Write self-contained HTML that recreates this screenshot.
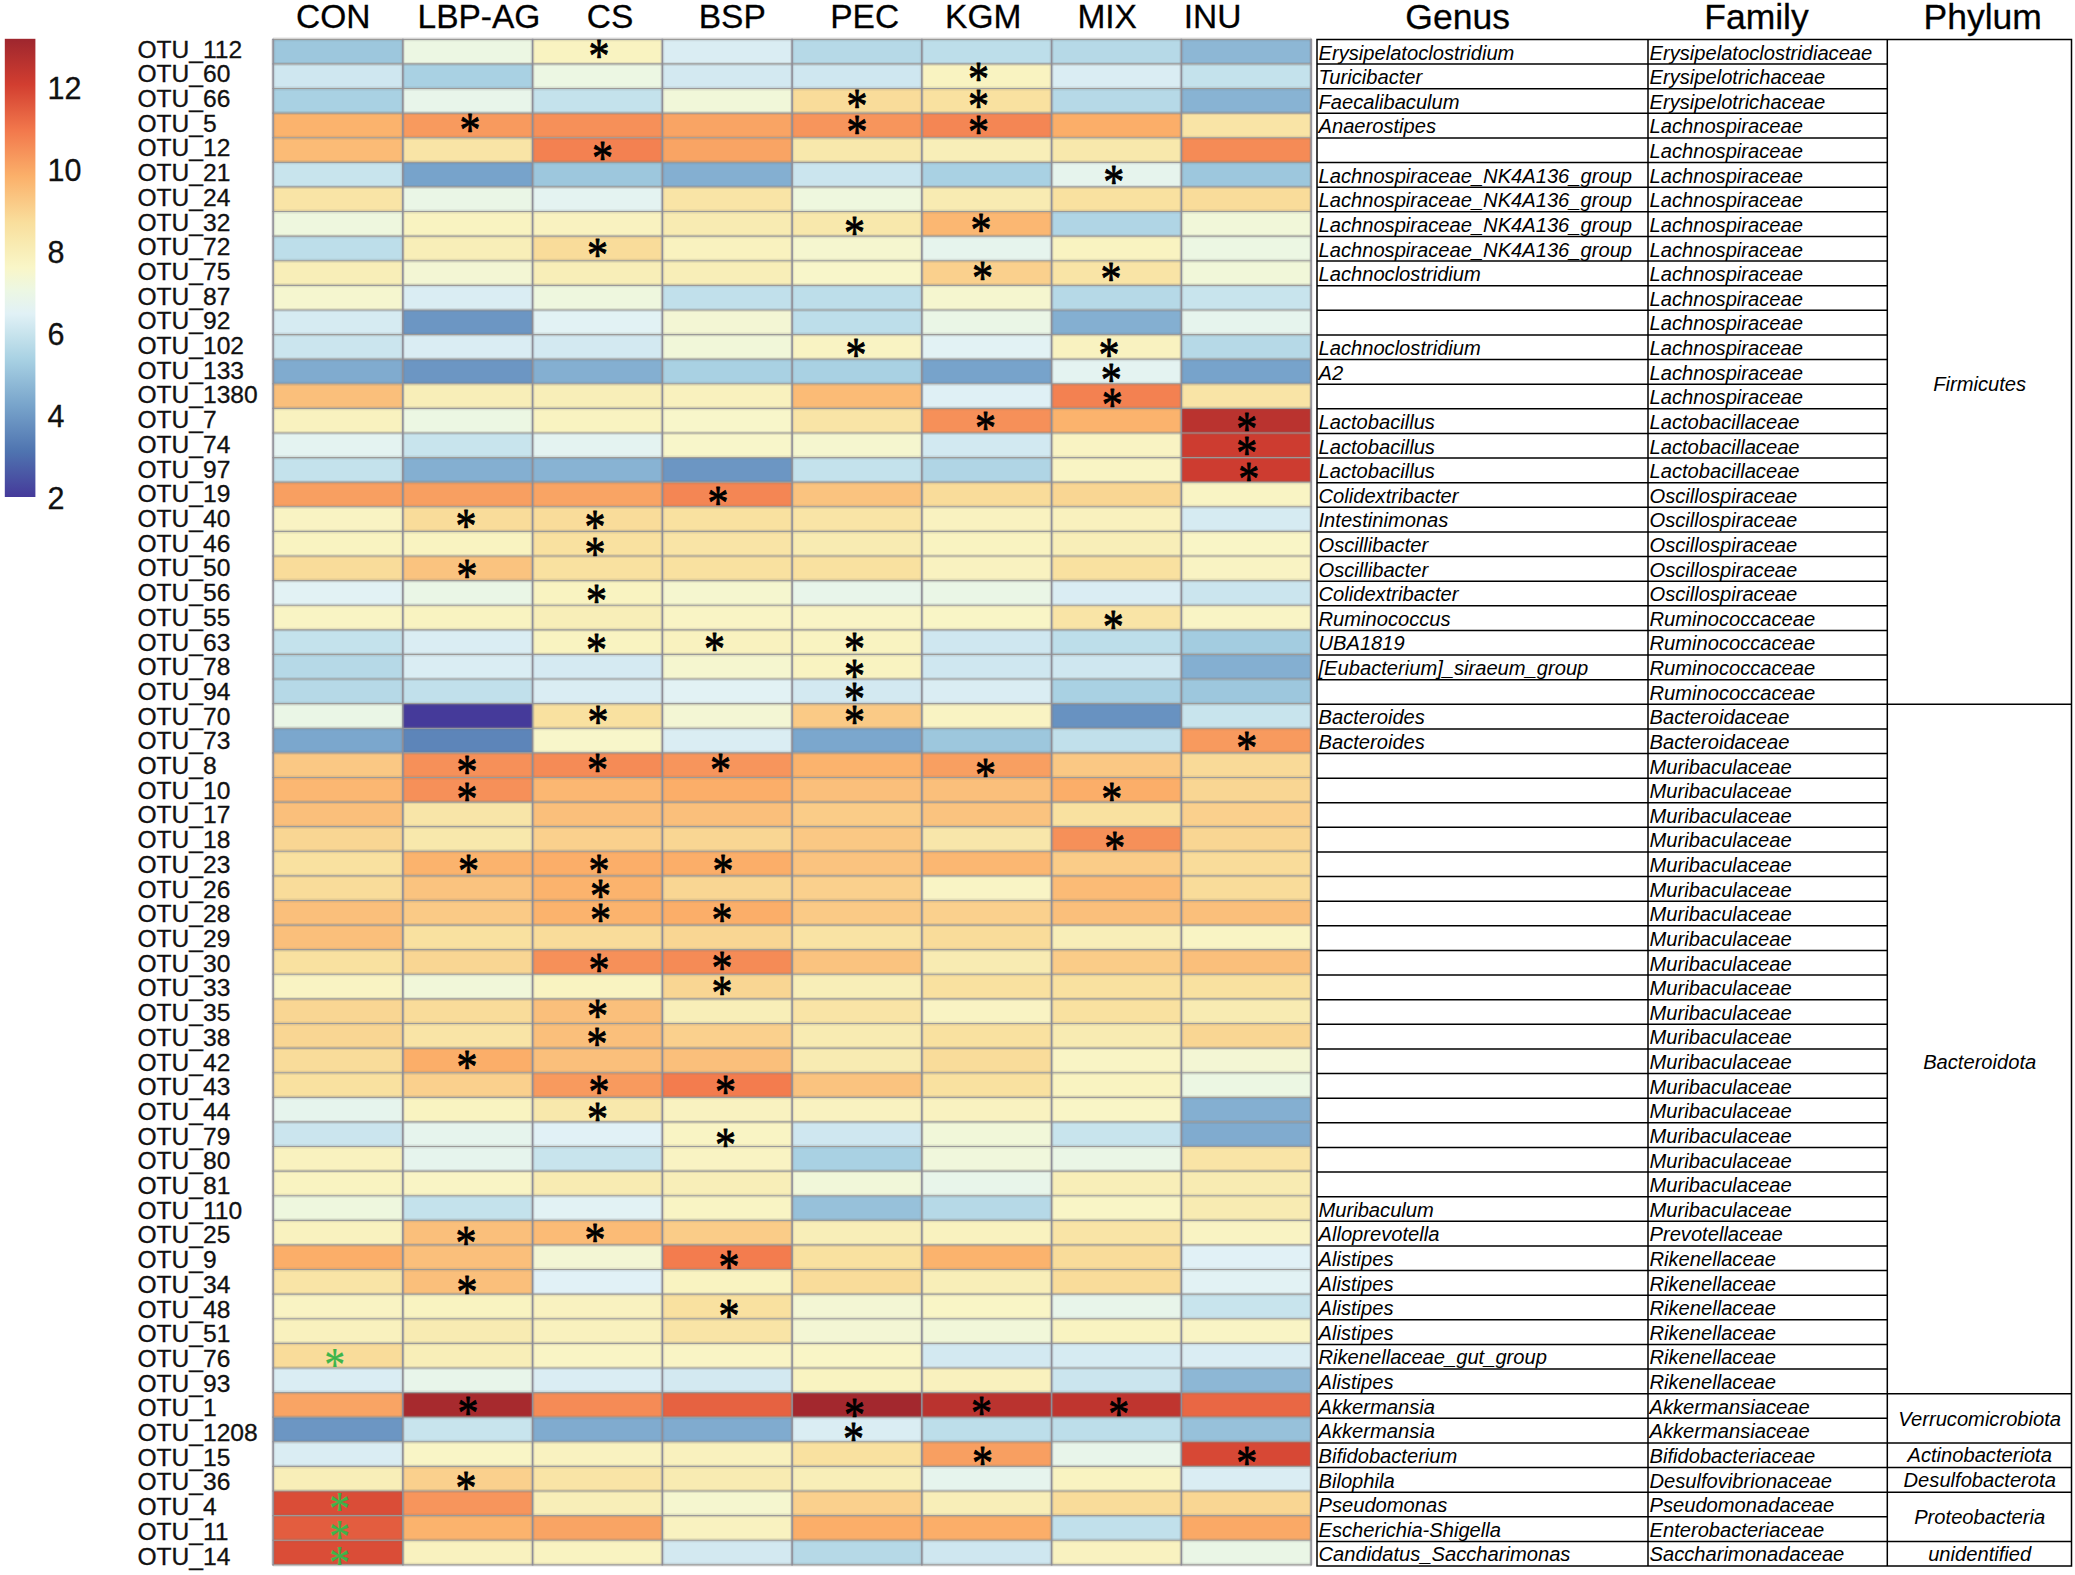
<!DOCTYPE html>
<html><head><meta charset="utf-8"><title>OTU heatmap</title>
<style>html,body{margin:0;padding:0;background:#fff}svg{display:block}.s{font-family:"Liberation Sans",Arial,sans-serif;fill:#111;stroke:#111;stroke-width:0.3px}.i{font-family:"Liberation Sans",Arial,sans-serif;font-style:italic;font-size:20.15px;fill:#000}.o{font-size:24.6px}.h{font-size:33.5px;fill:#000}.g{font-size:35.5px;fill:#000}.l{font-size:30.5px}.a{font-family:"Liberation Serif","DejaVu Serif",serif;font-size:100px;text-anchor:middle;stroke-width:1.8px;stroke-linejoin:round}</style></head><body>
<svg width="2075" height="1575" viewBox="0 0 2075 1575">
<defs><linearGradient id="lg" x1="0" y1="1" x2="0" y2="0">
<stop offset="0.00%" stop-color="#453A9A"/>
<stop offset="10.00%" stop-color="#4F74B0"/>
<stop offset="20.00%" stop-color="#78A4CB"/>
<stop offset="30.00%" stop-color="#A8D1E3"/>
<stop offset="35.14%" stop-color="#C5E2EC"/>
<stop offset="40.00%" stop-color="#E1F1F6"/>
<stop offset="45.05%" stop-color="#ECF7E3"/>
<stop offset="50.00%" stop-color="#F9F6C8"/>
<stop offset="54.95%" stop-color="#F8EBB2"/>
<stop offset="60.00%" stop-color="#F9DE9C"/>
<stop offset="70.00%" stop-color="#FBB06A"/>
<stop offset="80.00%" stop-color="#F2784C"/>
<stop offset="90.00%" stop-color="#D23E30"/>
<stop offset="100.00%" stop-color="#9E262E"/>
</linearGradient></defs>
<rect x="4.8" y="38.8" width="30.6" height="458.2" fill="url(#lg)"/>
<text class="s l" x="47.6" y="99.3">12</text>
<text class="s l" x="47.6" y="181.2">10</text>
<text class="s l" x="47.6" y="263.0">8</text>
<text class="s l" x="47.6" y="344.9">6</text>
<text class="s l" x="47.6" y="426.7">4</text>
<text class="s l" x="47.6" y="508.6">2</text>
<text class="s h" x="333.3" y="27.6" text-anchor="middle">CON</text>
<text class="s h" x="479" y="27.6" text-anchor="middle">LBP-AG</text>
<text class="s h" x="610" y="27.6" text-anchor="middle">CS</text>
<text class="s h" x="732.3" y="27.6" text-anchor="middle">BSP</text>
<text class="s h" x="864.7" y="27.6" text-anchor="middle">PEC</text>
<text class="s h" x="983.2" y="27.6" text-anchor="middle">KGM</text>
<text class="s h" x="1107.2" y="27.6" text-anchor="middle">MIX</text>
<text class="s h" x="1212.5" y="27.6" text-anchor="middle">INU</text>
<text class="s g" x="1457.6" y="28.5" text-anchor="middle">Genus</text>
<text class="s g" x="1756.5" y="28.5" text-anchor="middle">Family</text>
<text class="s g" x="1982.7" y="28.5" text-anchor="middle">Phylum</text>
<g>
<rect x="273.10" y="39.30" width="129.75" height="24.60" fill="#9dc7dd"/>
<rect x="402.85" y="39.30" width="129.75" height="24.60" fill="#ecf7e3"/>
<rect x="532.60" y="39.30" width="129.75" height="24.60" fill="#f9f3c1"/>
<rect x="662.35" y="39.30" width="129.75" height="24.60" fill="#daedf3"/>
<rect x="792.10" y="39.30" width="129.75" height="24.60" fill="#b6d9e7"/>
<rect x="921.85" y="39.30" width="129.75" height="24.60" fill="#bddeea"/>
<rect x="1051.60" y="39.30" width="129.75" height="24.60" fill="#b6d9e7"/>
<rect x="1181.35" y="39.30" width="129.75" height="24.60" fill="#8db7d5"/>
<rect x="273.10" y="63.90" width="129.75" height="24.60" fill="#cfe7f0"/>
<rect x="402.85" y="63.90" width="129.75" height="24.60" fill="#a9d1e3"/>
<rect x="532.60" y="63.90" width="129.75" height="24.60" fill="#ecf7e3"/>
<rect x="662.35" y="63.90" width="129.75" height="24.60" fill="#d3e9f1"/>
<rect x="792.10" y="63.90" width="129.75" height="24.60" fill="#cfe7f0"/>
<rect x="921.85" y="63.90" width="129.75" height="24.60" fill="#f9f3c1"/>
<rect x="1051.60" y="63.90" width="129.75" height="24.60" fill="#daedf3"/>
<rect x="1181.35" y="63.90" width="129.75" height="24.60" fill="#c4e2ec"/>
<rect x="273.10" y="88.51" width="129.75" height="24.60" fill="#a9d1e3"/>
<rect x="402.85" y="88.51" width="129.75" height="24.60" fill="#e8f5ea"/>
<rect x="532.60" y="88.51" width="129.75" height="24.60" fill="#c4e2ec"/>
<rect x="662.35" y="88.51" width="129.75" height="24.60" fill="#f1f7d9"/>
<rect x="792.10" y="88.51" width="129.75" height="24.60" fill="#f9dc9a"/>
<rect x="921.85" y="88.51" width="129.75" height="24.60" fill="#f9e1a0"/>
<rect x="1051.60" y="88.51" width="129.75" height="24.60" fill="#b6d9e7"/>
<rect x="1181.35" y="88.51" width="129.75" height="24.60" fill="#88b3d3"/>
<rect x="273.10" y="113.11" width="129.75" height="24.60" fill="#fbb36d"/>
<rect x="402.85" y="113.11" width="129.75" height="24.60" fill="#f89a5e"/>
<rect x="532.60" y="113.11" width="129.75" height="24.60" fill="#f69059"/>
<rect x="662.35" y="113.11" width="129.75" height="24.60" fill="#f9a464"/>
<rect x="792.10" y="113.11" width="129.75" height="24.60" fill="#f7955c"/>
<rect x="921.85" y="113.11" width="129.75" height="24.60" fill="#f48654"/>
<rect x="1051.60" y="113.11" width="129.75" height="24.60" fill="#fbae69"/>
<rect x="1181.35" y="113.11" width="129.75" height="24.60" fill="#f9e4a6"/>
<rect x="273.10" y="137.72" width="129.75" height="24.60" fill="#fbbb76"/>
<rect x="402.85" y="137.72" width="129.75" height="24.60" fill="#f9e4a6"/>
<rect x="532.60" y="137.72" width="129.75" height="24.60" fill="#f38151"/>
<rect x="662.35" y="137.72" width="129.75" height="24.60" fill="#f9a464"/>
<rect x="792.10" y="137.72" width="129.75" height="24.60" fill="#f8e8ac"/>
<rect x="921.85" y="137.72" width="129.75" height="24.60" fill="#f8eeb8"/>
<rect x="1051.60" y="137.72" width="129.75" height="24.60" fill="#f8e8ac"/>
<rect x="1181.35" y="137.72" width="129.75" height="24.60" fill="#f58b56"/>
<rect x="273.10" y="162.32" width="129.75" height="24.60" fill="#c8e4ed"/>
<rect x="402.85" y="162.32" width="129.75" height="24.60" fill="#77a3cb"/>
<rect x="532.60" y="162.32" width="129.75" height="24.60" fill="#9dc7dd"/>
<rect x="662.35" y="162.32" width="129.75" height="24.60" fill="#84afd1"/>
<rect x="792.10" y="162.32" width="129.75" height="24.60" fill="#cbe5ee"/>
<rect x="921.85" y="162.32" width="129.75" height="24.60" fill="#a9d1e3"/>
<rect x="1051.60" y="162.32" width="129.75" height="24.60" fill="#e6f4ed"/>
<rect x="1181.35" y="162.32" width="129.75" height="24.60" fill="#9dc7dd"/>
<rect x="273.10" y="186.93" width="129.75" height="24.60" fill="#f9e4a6"/>
<rect x="402.85" y="186.93" width="129.75" height="24.60" fill="#eaf6e6"/>
<rect x="532.60" y="186.93" width="129.75" height="24.60" fill="#e4f3f1"/>
<rect x="662.35" y="186.93" width="129.75" height="24.60" fill="#f9e4a6"/>
<rect x="792.10" y="186.93" width="129.75" height="24.60" fill="#eef7de"/>
<rect x="921.85" y="186.93" width="129.75" height="24.60" fill="#f8ebb2"/>
<rect x="1051.60" y="186.93" width="129.75" height="24.60" fill="#f9e1a0"/>
<rect x="1181.35" y="186.93" width="129.75" height="24.60" fill="#f9dc9a"/>
<rect x="273.10" y="211.53" width="129.75" height="24.60" fill="#eef7de"/>
<rect x="402.85" y="211.53" width="129.75" height="24.60" fill="#f9f3c1"/>
<rect x="532.60" y="211.53" width="129.75" height="24.60" fill="#f9f2c0"/>
<rect x="662.35" y="211.53" width="129.75" height="24.60" fill="#f8ebb2"/>
<rect x="792.10" y="211.53" width="129.75" height="24.60" fill="#f8e8ac"/>
<rect x="921.85" y="211.53" width="129.75" height="24.60" fill="#fbb772"/>
<rect x="1051.60" y="211.53" width="129.75" height="24.60" fill="#b0d5e5"/>
<rect x="1181.35" y="211.53" width="129.75" height="24.60" fill="#f1f7d9"/>
<rect x="273.10" y="236.14" width="129.75" height="24.60" fill="#bddeea"/>
<rect x="402.85" y="236.14" width="129.75" height="24.60" fill="#f8eeb8"/>
<rect x="532.60" y="236.14" width="129.75" height="24.60" fill="#f9dc9a"/>
<rect x="662.35" y="236.14" width="129.75" height="24.60" fill="#f9f2bf"/>
<rect x="792.10" y="236.14" width="129.75" height="24.60" fill="#f5f6cf"/>
<rect x="921.85" y="236.14" width="129.75" height="24.60" fill="#e6f4ed"/>
<rect x="1051.60" y="236.14" width="129.75" height="24.60" fill="#f9f3c1"/>
<rect x="1181.35" y="236.14" width="129.75" height="24.60" fill="#ecf7e3"/>
<rect x="273.10" y="260.74" width="129.75" height="24.60" fill="#f8eeb8"/>
<rect x="402.85" y="260.74" width="129.75" height="24.60" fill="#f3f6d4"/>
<rect x="532.60" y="260.74" width="129.75" height="24.60" fill="#f8eeb8"/>
<rect x="662.35" y="260.74" width="129.75" height="24.60" fill="#f8eeb8"/>
<rect x="792.10" y="260.74" width="129.75" height="24.60" fill="#f8f6ca"/>
<rect x="921.85" y="260.74" width="129.75" height="24.60" fill="#fad08d"/>
<rect x="1051.60" y="260.74" width="129.75" height="24.60" fill="#f9e4a6"/>
<rect x="1181.35" y="260.74" width="129.75" height="24.60" fill="#f1f7d9"/>
<rect x="273.10" y="285.35" width="129.75" height="24.60" fill="#f5f6cf"/>
<rect x="402.85" y="285.35" width="129.75" height="24.60" fill="#daedf3"/>
<rect x="532.60" y="285.35" width="129.75" height="24.60" fill="#eef7de"/>
<rect x="662.35" y="285.35" width="129.75" height="24.60" fill="#c1e0eb"/>
<rect x="792.10" y="285.35" width="129.75" height="24.60" fill="#bddeea"/>
<rect x="921.85" y="285.35" width="129.75" height="24.60" fill="#f5f6cf"/>
<rect x="1051.60" y="285.35" width="129.75" height="24.60" fill="#b6d9e7"/>
<rect x="1181.35" y="285.35" width="129.75" height="24.60" fill="#c8e4ed"/>
<rect x="273.10" y="309.95" width="129.75" height="24.60" fill="#d6ebf2"/>
<rect x="402.85" y="309.95" width="129.75" height="24.60" fill="#6c96c3"/>
<rect x="532.60" y="309.95" width="129.75" height="24.60" fill="#e2f2f4"/>
<rect x="662.35" y="309.95" width="129.75" height="24.60" fill="#f3f6d4"/>
<rect x="792.10" y="309.95" width="129.75" height="24.60" fill="#bddeea"/>
<rect x="921.85" y="309.95" width="129.75" height="24.60" fill="#eaf6e6"/>
<rect x="1051.60" y="309.95" width="129.75" height="24.60" fill="#84afd1"/>
<rect x="1181.35" y="309.95" width="129.75" height="24.60" fill="#e6f4ed"/>
<rect x="273.10" y="334.56" width="129.75" height="24.60" fill="#cbe5ee"/>
<rect x="402.85" y="334.56" width="129.75" height="24.60" fill="#daedf3"/>
<rect x="532.60" y="334.56" width="129.75" height="24.60" fill="#d3e9f1"/>
<rect x="662.35" y="334.56" width="129.75" height="24.60" fill="#f1f7d9"/>
<rect x="792.10" y="334.56" width="129.75" height="24.60" fill="#f9f3c3"/>
<rect x="921.85" y="334.56" width="129.75" height="24.60" fill="#e2f2f4"/>
<rect x="1051.60" y="334.56" width="129.75" height="24.60" fill="#f9f2c0"/>
<rect x="1181.35" y="334.56" width="129.75" height="24.60" fill="#b6d9e7"/>
<rect x="273.10" y="359.16" width="129.75" height="24.60" fill="#80abcf"/>
<rect x="402.85" y="359.16" width="129.75" height="24.60" fill="#6c96c3"/>
<rect x="532.60" y="359.16" width="129.75" height="24.60" fill="#84afd1"/>
<rect x="662.35" y="359.16" width="129.75" height="24.60" fill="#a9d1e3"/>
<rect x="792.10" y="359.16" width="129.75" height="24.60" fill="#a9d1e3"/>
<rect x="921.85" y="359.16" width="129.75" height="24.60" fill="#77a3cb"/>
<rect x="1051.60" y="359.16" width="129.75" height="24.60" fill="#e4f3f1"/>
<rect x="1181.35" y="359.16" width="129.75" height="24.60" fill="#77a3cb"/>
<rect x="273.10" y="383.77" width="129.75" height="24.60" fill="#fabf7b"/>
<rect x="402.85" y="383.77" width="129.75" height="24.60" fill="#f8eeb8"/>
<rect x="532.60" y="383.77" width="129.75" height="24.60" fill="#f8eeb8"/>
<rect x="662.35" y="383.77" width="129.75" height="24.60" fill="#f9f1be"/>
<rect x="792.10" y="383.77" width="129.75" height="24.60" fill="#fbbb76"/>
<rect x="921.85" y="383.77" width="129.75" height="24.60" fill="#dff0f5"/>
<rect x="1051.60" y="383.77" width="129.75" height="24.60" fill="#f38151"/>
<rect x="1181.35" y="383.77" width="129.75" height="24.60" fill="#f9e4a6"/>
<rect x="273.10" y="408.37" width="129.75" height="24.60" fill="#f9f2bf"/>
<rect x="402.85" y="408.37" width="129.75" height="24.60" fill="#ecf7e3"/>
<rect x="532.60" y="408.37" width="129.75" height="24.60" fill="#f9f3c1"/>
<rect x="662.35" y="408.37" width="129.75" height="24.60" fill="#f8f6ca"/>
<rect x="792.10" y="408.37" width="129.75" height="24.60" fill="#f9e4a6"/>
<rect x="921.85" y="408.37" width="129.75" height="24.60" fill="#f69059"/>
<rect x="1051.60" y="408.37" width="129.75" height="24.60" fill="#fbb36d"/>
<rect x="1181.35" y="408.37" width="129.75" height="24.60" fill="#ba332f"/>
<rect x="273.10" y="432.98" width="129.75" height="24.60" fill="#e4f3f1"/>
<rect x="402.85" y="432.98" width="129.75" height="24.60" fill="#c8e4ed"/>
<rect x="532.60" y="432.98" width="129.75" height="24.60" fill="#e4f3f1"/>
<rect x="662.35" y="432.98" width="129.75" height="24.60" fill="#f8f6ca"/>
<rect x="792.10" y="432.98" width="129.75" height="24.60" fill="#f5f6cf"/>
<rect x="921.85" y="432.98" width="129.75" height="24.60" fill="#d2e9f1"/>
<rect x="1051.60" y="432.98" width="129.75" height="24.60" fill="#f9f3c3"/>
<rect x="1181.35" y="432.98" width="129.75" height="24.60" fill="#cd3c30"/>
<rect x="273.10" y="457.58" width="129.75" height="24.60" fill="#c4e2ec"/>
<rect x="402.85" y="457.58" width="129.75" height="24.60" fill="#84afd1"/>
<rect x="532.60" y="457.58" width="129.75" height="24.60" fill="#88b3d3"/>
<rect x="662.35" y="457.58" width="129.75" height="24.60" fill="#6c96c3"/>
<rect x="792.10" y="457.58" width="129.75" height="24.60" fill="#c4e2ec"/>
<rect x="921.85" y="457.58" width="129.75" height="24.60" fill="#b0d5e5"/>
<rect x="1051.60" y="457.58" width="129.75" height="24.60" fill="#f9f4c4"/>
<rect x="1181.35" y="457.58" width="129.75" height="24.60" fill="#cd3c30"/>
<rect x="273.10" y="482.19" width="129.75" height="24.60" fill="#f89f61"/>
<rect x="402.85" y="482.19" width="129.75" height="24.60" fill="#f89f61"/>
<rect x="532.60" y="482.19" width="129.75" height="24.60" fill="#f9a464"/>
<rect x="662.35" y="482.19" width="129.75" height="24.60" fill="#f48654"/>
<rect x="792.10" y="482.19" width="129.75" height="24.60" fill="#fac37f"/>
<rect x="921.85" y="482.19" width="129.75" height="24.60" fill="#f9dc9a"/>
<rect x="1051.60" y="482.19" width="129.75" height="24.60" fill="#f9d693"/>
<rect x="1181.35" y="482.19" width="129.75" height="24.60" fill="#f9f4c4"/>
<rect x="273.10" y="506.79" width="129.75" height="24.60" fill="#f9f3c3"/>
<rect x="402.85" y="506.79" width="129.75" height="24.60" fill="#f9dc9a"/>
<rect x="532.60" y="506.79" width="129.75" height="24.60" fill="#f9dc9a"/>
<rect x="662.35" y="506.79" width="129.75" height="24.60" fill="#f9e1a0"/>
<rect x="792.10" y="506.79" width="129.75" height="24.60" fill="#f9e4a6"/>
<rect x="921.85" y="506.79" width="129.75" height="24.60" fill="#f9f2c0"/>
<rect x="1051.60" y="506.79" width="129.75" height="24.60" fill="#f9f1be"/>
<rect x="1181.35" y="506.79" width="129.75" height="24.60" fill="#d6ebf2"/>
<rect x="273.10" y="531.40" width="129.75" height="24.60" fill="#f9f3c1"/>
<rect x="402.85" y="531.40" width="129.75" height="24.60" fill="#f9f3c1"/>
<rect x="532.60" y="531.40" width="129.75" height="24.60" fill="#f9e1a0"/>
<rect x="662.35" y="531.40" width="129.75" height="24.60" fill="#f9e4a6"/>
<rect x="792.10" y="531.40" width="129.75" height="24.60" fill="#f8ebb2"/>
<rect x="921.85" y="531.40" width="129.75" height="24.60" fill="#f9f3c1"/>
<rect x="1051.60" y="531.40" width="129.75" height="24.60" fill="#f8eeb8"/>
<rect x="1181.35" y="531.40" width="129.75" height="24.60" fill="#f9f5c6"/>
<rect x="273.10" y="556.00" width="129.75" height="24.60" fill="#f9dc9a"/>
<rect x="402.85" y="556.00" width="129.75" height="24.60" fill="#fac37f"/>
<rect x="532.60" y="556.00" width="129.75" height="24.60" fill="#f9e1a0"/>
<rect x="662.35" y="556.00" width="129.75" height="24.60" fill="#f9e1a0"/>
<rect x="792.10" y="556.00" width="129.75" height="24.60" fill="#f9e1a0"/>
<rect x="921.85" y="556.00" width="129.75" height="24.60" fill="#f9f2c0"/>
<rect x="1051.60" y="556.00" width="129.75" height="24.60" fill="#f9e1a0"/>
<rect x="1181.35" y="556.00" width="129.75" height="24.60" fill="#f9f3c3"/>
<rect x="273.10" y="580.61" width="129.75" height="24.60" fill="#e2f2f4"/>
<rect x="402.85" y="580.61" width="129.75" height="24.60" fill="#eaf6e6"/>
<rect x="532.60" y="580.61" width="129.75" height="24.60" fill="#f9f3c1"/>
<rect x="662.35" y="580.61" width="129.75" height="24.60" fill="#f5f6cf"/>
<rect x="792.10" y="580.61" width="129.75" height="24.60" fill="#e8f5ea"/>
<rect x="921.85" y="580.61" width="129.75" height="24.60" fill="#eaf6e6"/>
<rect x="1051.60" y="580.61" width="129.75" height="24.60" fill="#daedf3"/>
<rect x="1181.35" y="580.61" width="129.75" height="24.60" fill="#cbe5ee"/>
<rect x="273.10" y="605.21" width="129.75" height="24.60" fill="#f9f4c4"/>
<rect x="402.85" y="605.21" width="129.75" height="24.60" fill="#f9f3c1"/>
<rect x="532.60" y="605.21" width="129.75" height="24.60" fill="#f8eeb8"/>
<rect x="662.35" y="605.21" width="129.75" height="24.60" fill="#f9f4c5"/>
<rect x="792.10" y="605.21" width="129.75" height="24.60" fill="#f9f4c5"/>
<rect x="921.85" y="605.21" width="129.75" height="24.60" fill="#f9f5c6"/>
<rect x="1051.60" y="605.21" width="129.75" height="24.60" fill="#f9e4a6"/>
<rect x="1181.35" y="605.21" width="129.75" height="24.60" fill="#f9f4c5"/>
<rect x="273.10" y="629.82" width="129.75" height="24.60" fill="#c4e2ec"/>
<rect x="402.85" y="629.82" width="129.75" height="24.60" fill="#daedf3"/>
<rect x="532.60" y="629.82" width="129.75" height="24.60" fill="#f9f3c1"/>
<rect x="662.35" y="629.82" width="129.75" height="24.60" fill="#f9f2bf"/>
<rect x="792.10" y="629.82" width="129.75" height="24.60" fill="#f9f3c1"/>
<rect x="921.85" y="629.82" width="129.75" height="24.60" fill="#cfe7f0"/>
<rect x="1051.60" y="629.82" width="129.75" height="24.60" fill="#bddeea"/>
<rect x="1181.35" y="629.82" width="129.75" height="24.60" fill="#a3cce0"/>
<rect x="273.10" y="654.42" width="129.75" height="24.60" fill="#b6d9e7"/>
<rect x="402.85" y="654.42" width="129.75" height="24.60" fill="#daedf3"/>
<rect x="532.60" y="654.42" width="129.75" height="24.60" fill="#d5eaf2"/>
<rect x="662.35" y="654.42" width="129.75" height="24.60" fill="#f5f6cf"/>
<rect x="792.10" y="654.42" width="129.75" height="24.60" fill="#f9f3c1"/>
<rect x="921.85" y="654.42" width="129.75" height="24.60" fill="#cfe7f0"/>
<rect x="1051.60" y="654.42" width="129.75" height="24.60" fill="#cfe7f0"/>
<rect x="1181.35" y="654.42" width="129.75" height="24.60" fill="#84afd1"/>
<rect x="273.10" y="679.03" width="129.75" height="24.60" fill="#b6d9e7"/>
<rect x="402.85" y="679.03" width="129.75" height="24.60" fill="#c1e0eb"/>
<rect x="532.60" y="679.03" width="129.75" height="24.60" fill="#daedf3"/>
<rect x="662.35" y="679.03" width="129.75" height="24.60" fill="#e2f2f4"/>
<rect x="792.10" y="679.03" width="129.75" height="24.60" fill="#d3e9f1"/>
<rect x="921.85" y="679.03" width="129.75" height="24.60" fill="#daedf3"/>
<rect x="1051.60" y="679.03" width="129.75" height="24.60" fill="#a9d1e3"/>
<rect x="1181.35" y="679.03" width="129.75" height="24.60" fill="#9dc7dd"/>
<rect x="273.10" y="703.63" width="129.75" height="24.60" fill="#eaf6e6"/>
<rect x="402.85" y="703.63" width="129.75" height="24.60" fill="#453a9a"/>
<rect x="532.60" y="703.63" width="129.75" height="24.60" fill="#f9e1a0"/>
<rect x="662.35" y="703.63" width="129.75" height="24.60" fill="#f3f6d4"/>
<rect x="792.10" y="703.63" width="129.75" height="24.60" fill="#faca86"/>
<rect x="921.85" y="703.63" width="129.75" height="24.60" fill="#f9f3c3"/>
<rect x="1051.60" y="703.63" width="129.75" height="24.60" fill="#6892c1"/>
<rect x="1181.35" y="703.63" width="129.75" height="24.60" fill="#c8e4ed"/>
<rect x="273.10" y="728.24" width="129.75" height="24.60" fill="#7ba7cd"/>
<rect x="402.85" y="728.24" width="129.75" height="24.60" fill="#5d85b9"/>
<rect x="532.60" y="728.24" width="129.75" height="24.60" fill="#f8f6ca"/>
<rect x="662.35" y="728.24" width="129.75" height="24.60" fill="#daedf3"/>
<rect x="792.10" y="728.24" width="129.75" height="24.60" fill="#7ba7cd"/>
<rect x="921.85" y="728.24" width="129.75" height="24.60" fill="#9dc7dd"/>
<rect x="1051.60" y="728.24" width="129.75" height="24.60" fill="#c1e0eb"/>
<rect x="1181.35" y="728.24" width="129.75" height="24.60" fill="#f89a5e"/>
<rect x="273.10" y="752.84" width="129.75" height="24.60" fill="#fac884"/>
<rect x="402.85" y="752.84" width="129.75" height="24.60" fill="#f69059"/>
<rect x="532.60" y="752.84" width="129.75" height="24.60" fill="#f58b56"/>
<rect x="662.35" y="752.84" width="129.75" height="24.60" fill="#f7955c"/>
<rect x="792.10" y="752.84" width="129.75" height="24.60" fill="#fbb36d"/>
<rect x="921.85" y="752.84" width="129.75" height="24.60" fill="#f89f61"/>
<rect x="1051.60" y="752.84" width="129.75" height="24.60" fill="#fac884"/>
<rect x="1181.35" y="752.84" width="129.75" height="24.60" fill="#f9da98"/>
<rect x="273.10" y="777.45" width="129.75" height="24.60" fill="#fbb772"/>
<rect x="402.85" y="777.45" width="129.75" height="24.60" fill="#f69059"/>
<rect x="532.60" y="777.45" width="129.75" height="24.60" fill="#fbb772"/>
<rect x="662.35" y="777.45" width="129.75" height="24.60" fill="#fbae69"/>
<rect x="792.10" y="777.45" width="129.75" height="24.60" fill="#fabf7b"/>
<rect x="921.85" y="777.45" width="129.75" height="24.60" fill="#fabf7b"/>
<rect x="1051.60" y="777.45" width="129.75" height="24.60" fill="#fbae69"/>
<rect x="1181.35" y="777.45" width="129.75" height="24.60" fill="#f9d693"/>
<rect x="273.10" y="802.05" width="129.75" height="24.60" fill="#fabf7b"/>
<rect x="402.85" y="802.05" width="129.75" height="24.60" fill="#f8e5a8"/>
<rect x="532.60" y="802.05" width="129.75" height="24.60" fill="#fabf7b"/>
<rect x="662.35" y="802.05" width="129.75" height="24.60" fill="#fabf7b"/>
<rect x="792.10" y="802.05" width="129.75" height="24.60" fill="#facc88"/>
<rect x="921.85" y="802.05" width="129.75" height="24.60" fill="#fac37f"/>
<rect x="1051.60" y="802.05" width="129.75" height="24.60" fill="#f9e1a0"/>
<rect x="1181.35" y="802.05" width="129.75" height="24.60" fill="#fad08d"/>
<rect x="273.10" y="826.65" width="129.75" height="24.60" fill="#f9d693"/>
<rect x="402.85" y="826.65" width="129.75" height="24.60" fill="#f8e8ac"/>
<rect x="532.60" y="826.65" width="129.75" height="24.60" fill="#fad08d"/>
<rect x="662.35" y="826.65" width="129.75" height="24.60" fill="#f9d693"/>
<rect x="792.10" y="826.65" width="129.75" height="24.60" fill="#fac884"/>
<rect x="921.85" y="826.65" width="129.75" height="24.60" fill="#f8e6aa"/>
<rect x="1051.60" y="826.65" width="129.75" height="24.60" fill="#f69059"/>
<rect x="1181.35" y="826.65" width="129.75" height="24.60" fill="#f9d693"/>
<rect x="273.10" y="851.26" width="129.75" height="24.60" fill="#f9e1a0"/>
<rect x="402.85" y="851.26" width="129.75" height="24.60" fill="#fbb36d"/>
<rect x="532.60" y="851.26" width="129.75" height="24.60" fill="#fbae69"/>
<rect x="662.35" y="851.26" width="129.75" height="24.60" fill="#fbae69"/>
<rect x="792.10" y="851.26" width="129.75" height="24.60" fill="#fac37f"/>
<rect x="921.85" y="851.26" width="129.75" height="24.60" fill="#fbb772"/>
<rect x="1051.60" y="851.26" width="129.75" height="24.60" fill="#facc88"/>
<rect x="1181.35" y="851.26" width="129.75" height="24.60" fill="#f9dc9a"/>
<rect x="273.10" y="875.86" width="129.75" height="24.60" fill="#f9dc9a"/>
<rect x="402.85" y="875.86" width="129.75" height="24.60" fill="#fac37f"/>
<rect x="532.60" y="875.86" width="129.75" height="24.60" fill="#fbb36d"/>
<rect x="662.35" y="875.86" width="129.75" height="24.60" fill="#f9d693"/>
<rect x="792.10" y="875.86" width="129.75" height="24.60" fill="#fad08d"/>
<rect x="921.85" y="875.86" width="129.75" height="24.60" fill="#f9f4c5"/>
<rect x="1051.60" y="875.86" width="129.75" height="24.60" fill="#fbbb76"/>
<rect x="1181.35" y="875.86" width="129.75" height="24.60" fill="#f9dc9a"/>
<rect x="273.10" y="900.47" width="129.75" height="24.60" fill="#fabf7b"/>
<rect x="402.85" y="900.47" width="129.75" height="24.60" fill="#faca86"/>
<rect x="532.60" y="900.47" width="129.75" height="24.60" fill="#fbb36d"/>
<rect x="662.35" y="900.47" width="129.75" height="24.60" fill="#fbae69"/>
<rect x="792.10" y="900.47" width="129.75" height="24.60" fill="#faca86"/>
<rect x="921.85" y="900.47" width="129.75" height="24.60" fill="#fad08d"/>
<rect x="1051.60" y="900.47" width="129.75" height="24.60" fill="#fabf7b"/>
<rect x="1181.35" y="900.47" width="129.75" height="24.60" fill="#fabf7b"/>
<rect x="273.10" y="925.07" width="129.75" height="24.60" fill="#fabf7b"/>
<rect x="402.85" y="925.07" width="129.75" height="24.60" fill="#f9e1a0"/>
<rect x="532.60" y="925.07" width="129.75" height="24.60" fill="#f9dc9a"/>
<rect x="662.35" y="925.07" width="129.75" height="24.60" fill="#f9d693"/>
<rect x="792.10" y="925.07" width="129.75" height="24.60" fill="#f9e3a4"/>
<rect x="921.85" y="925.07" width="129.75" height="24.60" fill="#f9dc9a"/>
<rect x="1051.60" y="925.07" width="129.75" height="24.60" fill="#f8eeb8"/>
<rect x="1181.35" y="925.07" width="129.75" height="24.60" fill="#f9f4c4"/>
<rect x="273.10" y="949.68" width="129.75" height="24.60" fill="#f9e1a0"/>
<rect x="402.85" y="949.68" width="129.75" height="24.60" fill="#f9d693"/>
<rect x="532.60" y="949.68" width="129.75" height="24.60" fill="#f69059"/>
<rect x="662.35" y="949.68" width="129.75" height="24.60" fill="#f58b56"/>
<rect x="792.10" y="949.68" width="129.75" height="24.60" fill="#fac37f"/>
<rect x="921.85" y="949.68" width="129.75" height="24.60" fill="#f8ebb2"/>
<rect x="1051.60" y="949.68" width="129.75" height="24.60" fill="#facc88"/>
<rect x="1181.35" y="949.68" width="129.75" height="24.60" fill="#fabf7b"/>
<rect x="273.10" y="974.28" width="129.75" height="24.60" fill="#f9f3c3"/>
<rect x="402.85" y="974.28" width="129.75" height="24.60" fill="#f1f7d9"/>
<rect x="532.60" y="974.28" width="129.75" height="24.60" fill="#f9f3c1"/>
<rect x="662.35" y="974.28" width="129.75" height="24.60" fill="#f9d693"/>
<rect x="792.10" y="974.28" width="129.75" height="24.60" fill="#f8eeb8"/>
<rect x="921.85" y="974.28" width="129.75" height="24.60" fill="#f9e1a0"/>
<rect x="1051.60" y="974.28" width="129.75" height="24.60" fill="#f9e1a0"/>
<rect x="1181.35" y="974.28" width="129.75" height="24.60" fill="#f9e1a0"/>
<rect x="273.10" y="998.89" width="129.75" height="24.60" fill="#f9d693"/>
<rect x="402.85" y="998.89" width="129.75" height="24.60" fill="#f9dc9a"/>
<rect x="532.60" y="998.89" width="129.75" height="24.60" fill="#fabf7b"/>
<rect x="662.35" y="998.89" width="129.75" height="24.60" fill="#f8eeb8"/>
<rect x="792.10" y="998.89" width="129.75" height="24.60" fill="#f9e4a6"/>
<rect x="921.85" y="998.89" width="129.75" height="24.60" fill="#f9f3c3"/>
<rect x="1051.60" y="998.89" width="129.75" height="24.60" fill="#f9e1a0"/>
<rect x="1181.35" y="998.89" width="129.75" height="24.60" fill="#f8ebb2"/>
<rect x="273.10" y="1023.49" width="129.75" height="24.60" fill="#f9d693"/>
<rect x="402.85" y="1023.49" width="129.75" height="24.60" fill="#f9e4a6"/>
<rect x="532.60" y="1023.49" width="129.75" height="24.60" fill="#fabf7b"/>
<rect x="662.35" y="1023.49" width="129.75" height="24.60" fill="#fad08d"/>
<rect x="792.10" y="1023.49" width="129.75" height="24.60" fill="#f8ebb2"/>
<rect x="921.85" y="1023.49" width="129.75" height="24.60" fill="#f9e1a0"/>
<rect x="1051.60" y="1023.49" width="129.75" height="24.60" fill="#f8ebb2"/>
<rect x="1181.35" y="1023.49" width="129.75" height="24.60" fill="#f9d693"/>
<rect x="273.10" y="1048.10" width="129.75" height="24.60" fill="#f9dc9a"/>
<rect x="402.85" y="1048.10" width="129.75" height="24.60" fill="#fbae69"/>
<rect x="532.60" y="1048.10" width="129.75" height="24.60" fill="#fabf7b"/>
<rect x="662.35" y="1048.10" width="129.75" height="24.60" fill="#fabf7b"/>
<rect x="792.10" y="1048.10" width="129.75" height="24.60" fill="#f8ebb2"/>
<rect x="921.85" y="1048.10" width="129.75" height="24.60" fill="#f9dc9a"/>
<rect x="1051.60" y="1048.10" width="129.75" height="24.60" fill="#f9f4c5"/>
<rect x="1181.35" y="1048.10" width="129.75" height="24.60" fill="#f3f6d4"/>
<rect x="273.10" y="1072.70" width="129.75" height="24.60" fill="#f9e1a0"/>
<rect x="402.85" y="1072.70" width="129.75" height="24.60" fill="#fad08d"/>
<rect x="532.60" y="1072.70" width="129.75" height="24.60" fill="#f89a5e"/>
<rect x="662.35" y="1072.70" width="129.75" height="24.60" fill="#f37c4e"/>
<rect x="792.10" y="1072.70" width="129.75" height="24.60" fill="#fac37f"/>
<rect x="921.85" y="1072.70" width="129.75" height="24.60" fill="#f9e1a0"/>
<rect x="1051.60" y="1072.70" width="129.75" height="24.60" fill="#f9f3c1"/>
<rect x="1181.35" y="1072.70" width="129.75" height="24.60" fill="#ecf7e3"/>
<rect x="273.10" y="1097.31" width="129.75" height="24.60" fill="#e6f4ed"/>
<rect x="402.85" y="1097.31" width="129.75" height="24.60" fill="#f9f3c1"/>
<rect x="532.60" y="1097.31" width="129.75" height="24.60" fill="#f8e8ac"/>
<rect x="662.35" y="1097.31" width="129.75" height="24.60" fill="#f9f2c0"/>
<rect x="792.10" y="1097.31" width="129.75" height="24.60" fill="#f9f2c0"/>
<rect x="921.85" y="1097.31" width="129.75" height="24.60" fill="#f9f2c0"/>
<rect x="1051.60" y="1097.31" width="129.75" height="24.60" fill="#f9f5c6"/>
<rect x="1181.35" y="1097.31" width="129.75" height="24.60" fill="#84afd1"/>
<rect x="273.10" y="1121.91" width="129.75" height="24.60" fill="#cbe5ee"/>
<rect x="402.85" y="1121.91" width="129.75" height="24.60" fill="#e6f4ed"/>
<rect x="532.60" y="1121.91" width="129.75" height="24.60" fill="#e1f1f6"/>
<rect x="662.35" y="1121.91" width="129.75" height="24.60" fill="#f9f4c4"/>
<rect x="792.10" y="1121.91" width="129.75" height="24.60" fill="#cfe7f0"/>
<rect x="921.85" y="1121.91" width="129.75" height="24.60" fill="#f1f7d9"/>
<rect x="1051.60" y="1121.91" width="129.75" height="24.60" fill="#c8e4ed"/>
<rect x="1181.35" y="1121.91" width="129.75" height="24.60" fill="#80abcf"/>
<rect x="273.10" y="1146.52" width="129.75" height="24.60" fill="#f9f2bf"/>
<rect x="402.85" y="1146.52" width="129.75" height="24.60" fill="#e6f4ed"/>
<rect x="532.60" y="1146.52" width="129.75" height="24.60" fill="#c8e4ed"/>
<rect x="662.35" y="1146.52" width="129.75" height="24.60" fill="#f9f3c3"/>
<rect x="792.10" y="1146.52" width="129.75" height="24.60" fill="#a9d1e3"/>
<rect x="921.85" y="1146.52" width="129.75" height="24.60" fill="#f0f7dc"/>
<rect x="1051.60" y="1146.52" width="129.75" height="24.60" fill="#eaf6e6"/>
<rect x="1181.35" y="1146.52" width="129.75" height="24.60" fill="#f9e4a6"/>
<rect x="273.10" y="1171.12" width="129.75" height="24.60" fill="#f9f3c1"/>
<rect x="402.85" y="1171.12" width="129.75" height="24.60" fill="#f9f4c5"/>
<rect x="532.60" y="1171.12" width="129.75" height="24.60" fill="#f8ebb2"/>
<rect x="662.35" y="1171.12" width="129.75" height="24.60" fill="#f8eeb8"/>
<rect x="792.10" y="1171.12" width="129.75" height="24.60" fill="#f1f7d9"/>
<rect x="921.85" y="1171.12" width="129.75" height="24.60" fill="#e8f5ea"/>
<rect x="1051.60" y="1171.12" width="129.75" height="24.60" fill="#f8eeb8"/>
<rect x="1181.35" y="1171.12" width="129.75" height="24.60" fill="#f8ebb2"/>
<rect x="273.10" y="1195.73" width="129.75" height="24.60" fill="#eef7de"/>
<rect x="402.85" y="1195.73" width="129.75" height="24.60" fill="#c4e2ec"/>
<rect x="532.60" y="1195.73" width="129.75" height="24.60" fill="#e2f2f4"/>
<rect x="662.35" y="1195.73" width="129.75" height="24.60" fill="#f9f4c4"/>
<rect x="792.10" y="1195.73" width="129.75" height="24.60" fill="#97c1da"/>
<rect x="921.85" y="1195.73" width="129.75" height="24.60" fill="#b6d9e7"/>
<rect x="1051.60" y="1195.73" width="129.75" height="24.60" fill="#f9f5c6"/>
<rect x="1181.35" y="1195.73" width="129.75" height="24.60" fill="#f8ebb2"/>
<rect x="273.10" y="1220.33" width="129.75" height="24.60" fill="#f9f2bf"/>
<rect x="402.85" y="1220.33" width="129.75" height="24.60" fill="#fabf7b"/>
<rect x="532.60" y="1220.33" width="129.75" height="24.60" fill="#fbbb76"/>
<rect x="662.35" y="1220.33" width="129.75" height="24.60" fill="#facc88"/>
<rect x="792.10" y="1220.33" width="129.75" height="24.60" fill="#f8eeb8"/>
<rect x="921.85" y="1220.33" width="129.75" height="24.60" fill="#f9f2bf"/>
<rect x="1051.60" y="1220.33" width="129.75" height="24.60" fill="#f9e4a6"/>
<rect x="1181.35" y="1220.33" width="129.75" height="24.60" fill="#f9f3c3"/>
<rect x="273.10" y="1244.94" width="129.75" height="24.60" fill="#fbae69"/>
<rect x="402.85" y="1244.94" width="129.75" height="24.60" fill="#fabf7b"/>
<rect x="532.60" y="1244.94" width="129.75" height="24.60" fill="#f3f6d4"/>
<rect x="662.35" y="1244.94" width="129.75" height="24.60" fill="#f37c4e"/>
<rect x="792.10" y="1244.94" width="129.75" height="24.60" fill="#f9e1a0"/>
<rect x="921.85" y="1244.94" width="129.75" height="24.60" fill="#fbb36d"/>
<rect x="1051.60" y="1244.94" width="129.75" height="24.60" fill="#f9dc9a"/>
<rect x="1181.35" y="1244.94" width="129.75" height="24.60" fill="#e1f1f6"/>
<rect x="273.10" y="1269.54" width="129.75" height="24.60" fill="#f9e4a6"/>
<rect x="402.85" y="1269.54" width="129.75" height="24.60" fill="#fabf7b"/>
<rect x="532.60" y="1269.54" width="129.75" height="24.60" fill="#e1f1f6"/>
<rect x="662.35" y="1269.54" width="129.75" height="24.60" fill="#f9f3c1"/>
<rect x="792.10" y="1269.54" width="129.75" height="24.60" fill="#f9dc9a"/>
<rect x="921.85" y="1269.54" width="129.75" height="24.60" fill="#f8eeb8"/>
<rect x="1051.60" y="1269.54" width="129.75" height="24.60" fill="#f9dc9a"/>
<rect x="1181.35" y="1269.54" width="129.75" height="24.60" fill="#e2f2f4"/>
<rect x="273.10" y="1294.15" width="129.75" height="24.60" fill="#f9f3c3"/>
<rect x="402.85" y="1294.15" width="129.75" height="24.60" fill="#f9f3c1"/>
<rect x="532.60" y="1294.15" width="129.75" height="24.60" fill="#f9f2c0"/>
<rect x="662.35" y="1294.15" width="129.75" height="24.60" fill="#f9e1a0"/>
<rect x="792.10" y="1294.15" width="129.75" height="24.60" fill="#f3f6d4"/>
<rect x="921.85" y="1294.15" width="129.75" height="24.60" fill="#f9f5c6"/>
<rect x="1051.60" y="1294.15" width="129.75" height="24.60" fill="#e8f5ea"/>
<rect x="1181.35" y="1294.15" width="129.75" height="24.60" fill="#c8e4ed"/>
<rect x="273.10" y="1318.75" width="129.75" height="24.60" fill="#f9f1be"/>
<rect x="402.85" y="1318.75" width="129.75" height="24.60" fill="#f8ebb2"/>
<rect x="532.60" y="1318.75" width="129.75" height="24.60" fill="#f9f1be"/>
<rect x="662.35" y="1318.75" width="129.75" height="24.60" fill="#f9e4a6"/>
<rect x="792.10" y="1318.75" width="129.75" height="24.60" fill="#f3f6d4"/>
<rect x="921.85" y="1318.75" width="129.75" height="24.60" fill="#f1f7d9"/>
<rect x="1051.60" y="1318.75" width="129.75" height="24.60" fill="#f9f3c1"/>
<rect x="1181.35" y="1318.75" width="129.75" height="24.60" fill="#f9f4c5"/>
<rect x="273.10" y="1343.36" width="129.75" height="24.60" fill="#f9dc9a"/>
<rect x="402.85" y="1343.36" width="129.75" height="24.60" fill="#f8eeb8"/>
<rect x="532.60" y="1343.36" width="129.75" height="24.60" fill="#f9f4c5"/>
<rect x="662.35" y="1343.36" width="129.75" height="24.60" fill="#f9f4c5"/>
<rect x="792.10" y="1343.36" width="129.75" height="24.60" fill="#f9f5c6"/>
<rect x="921.85" y="1343.36" width="129.75" height="24.60" fill="#d3e9f1"/>
<rect x="1051.60" y="1343.36" width="129.75" height="24.60" fill="#d6ebf2"/>
<rect x="1181.35" y="1343.36" width="129.75" height="24.60" fill="#daedf3"/>
<rect x="273.10" y="1367.96" width="129.75" height="24.60" fill="#daedf3"/>
<rect x="402.85" y="1367.96" width="129.75" height="24.60" fill="#e8f5ea"/>
<rect x="532.60" y="1367.96" width="129.75" height="24.60" fill="#daedf3"/>
<rect x="662.35" y="1367.96" width="129.75" height="24.60" fill="#d3e9f1"/>
<rect x="792.10" y="1367.96" width="129.75" height="24.60" fill="#f9f3c1"/>
<rect x="921.85" y="1367.96" width="129.75" height="24.60" fill="#f9f1be"/>
<rect x="1051.60" y="1367.96" width="129.75" height="24.60" fill="#cbe5ee"/>
<rect x="1181.35" y="1367.96" width="129.75" height="24.60" fill="#8db7d5"/>
<rect x="273.10" y="1392.57" width="129.75" height="24.60" fill="#f9a464"/>
<rect x="402.85" y="1392.57" width="129.75" height="24.60" fill="#a72a2e"/>
<rect x="532.60" y="1392.57" width="129.75" height="24.60" fill="#f58b56"/>
<rect x="662.35" y="1392.57" width="129.75" height="24.60" fill="#e66241"/>
<rect x="792.10" y="1392.57" width="129.75" height="24.60" fill="#a3282e"/>
<rect x="921.85" y="1392.57" width="129.75" height="24.60" fill="#ba332f"/>
<rect x="1051.60" y="1392.57" width="129.75" height="24.60" fill="#bf352f"/>
<rect x="1181.35" y="1392.57" width="129.75" height="24.60" fill="#e96744"/>
<rect x="273.10" y="1417.17" width="129.75" height="24.60" fill="#6c96c3"/>
<rect x="402.85" y="1417.17" width="129.75" height="24.60" fill="#c8e4ed"/>
<rect x="532.60" y="1417.17" width="129.75" height="24.60" fill="#80abcf"/>
<rect x="662.35" y="1417.17" width="129.75" height="24.60" fill="#80abcf"/>
<rect x="792.10" y="1417.17" width="129.75" height="24.60" fill="#daedf3"/>
<rect x="921.85" y="1417.17" width="129.75" height="24.60" fill="#bddeea"/>
<rect x="1051.60" y="1417.17" width="129.75" height="24.60" fill="#bddeea"/>
<rect x="1181.35" y="1417.17" width="129.75" height="24.60" fill="#97c1da"/>
<rect x="273.10" y="1441.78" width="129.75" height="24.60" fill="#daedf3"/>
<rect x="402.85" y="1441.78" width="129.75" height="24.60" fill="#f9f5c6"/>
<rect x="532.60" y="1441.78" width="129.75" height="24.60" fill="#f9f2c0"/>
<rect x="662.35" y="1441.78" width="129.75" height="24.60" fill="#f9f1be"/>
<rect x="792.10" y="1441.78" width="129.75" height="24.60" fill="#f9e1a0"/>
<rect x="921.85" y="1441.78" width="129.75" height="24.60" fill="#f89f61"/>
<rect x="1051.60" y="1441.78" width="129.75" height="24.60" fill="#e8f5ea"/>
<rect x="1181.35" y="1441.78" width="129.75" height="24.60" fill="#d74835"/>
<rect x="273.10" y="1466.38" width="129.75" height="24.60" fill="#f8eeb8"/>
<rect x="402.85" y="1466.38" width="129.75" height="24.60" fill="#fad08d"/>
<rect x="532.60" y="1466.38" width="129.75" height="24.60" fill="#f9e4a6"/>
<rect x="662.35" y="1466.38" width="129.75" height="24.60" fill="#f8ebb2"/>
<rect x="792.10" y="1466.38" width="129.75" height="24.60" fill="#f8eeb8"/>
<rect x="921.85" y="1466.38" width="129.75" height="24.60" fill="#e6f4ed"/>
<rect x="1051.60" y="1466.38" width="129.75" height="24.60" fill="#f9f3c1"/>
<rect x="1181.35" y="1466.38" width="129.75" height="24.60" fill="#daedf3"/>
<rect x="273.10" y="1490.99" width="129.75" height="24.60" fill="#da4d37"/>
<rect x="402.85" y="1490.99" width="129.75" height="24.60" fill="#f7955c"/>
<rect x="532.60" y="1490.99" width="129.75" height="24.60" fill="#f8eeb8"/>
<rect x="662.35" y="1490.99" width="129.75" height="24.60" fill="#f5f6cf"/>
<rect x="792.10" y="1490.99" width="129.75" height="24.60" fill="#fad08d"/>
<rect x="921.85" y="1490.99" width="129.75" height="24.60" fill="#f8eeb8"/>
<rect x="1051.60" y="1490.99" width="129.75" height="24.60" fill="#f9dc9a"/>
<rect x="1181.35" y="1490.99" width="129.75" height="24.60" fill="#f9d693"/>
<rect x="273.10" y="1515.59" width="129.75" height="24.60" fill="#e35d3f"/>
<rect x="402.85" y="1515.59" width="129.75" height="24.60" fill="#fbb36d"/>
<rect x="532.60" y="1515.59" width="129.75" height="24.60" fill="#f9a464"/>
<rect x="662.35" y="1515.59" width="129.75" height="24.60" fill="#f9f2c0"/>
<rect x="792.10" y="1515.59" width="129.75" height="24.60" fill="#fbae69"/>
<rect x="921.85" y="1515.59" width="129.75" height="24.60" fill="#fbae69"/>
<rect x="1051.60" y="1515.59" width="129.75" height="24.60" fill="#c1e0eb"/>
<rect x="1181.35" y="1515.59" width="129.75" height="24.60" fill="#faa966"/>
<rect x="273.10" y="1540.20" width="129.75" height="24.60" fill="#da4d37"/>
<rect x="402.85" y="1540.20" width="129.75" height="24.60" fill="#f9f2bf"/>
<rect x="532.60" y="1540.20" width="129.75" height="24.60" fill="#f9f3c1"/>
<rect x="662.35" y="1540.20" width="129.75" height="24.60" fill="#d3e9f1"/>
<rect x="792.10" y="1540.20" width="129.75" height="24.60" fill="#b6d9e7"/>
<rect x="921.85" y="1540.20" width="129.75" height="24.60" fill="#cfe7f0"/>
<rect x="1051.60" y="1540.20" width="129.75" height="24.60" fill="#f9f2c0"/>
<rect x="1181.35" y="1540.20" width="129.75" height="24.60" fill="#eaf6e6"/>
</g>
<g stroke="#777" stroke-opacity="0.16" stroke-width="4">
<line x1="273.10" y1="39.30" x2="1311.10" y2="39.30"/>
<line x1="273.10" y1="63.90" x2="1311.10" y2="63.90"/>
<line x1="273.10" y1="88.51" x2="1311.10" y2="88.51"/>
<line x1="273.10" y1="113.11" x2="1311.10" y2="113.11"/>
<line x1="273.10" y1="137.72" x2="1311.10" y2="137.72"/>
<line x1="273.10" y1="162.32" x2="1311.10" y2="162.32"/>
<line x1="273.10" y1="186.93" x2="1311.10" y2="186.93"/>
<line x1="273.10" y1="211.53" x2="1311.10" y2="211.53"/>
<line x1="273.10" y1="236.14" x2="1311.10" y2="236.14"/>
<line x1="273.10" y1="260.74" x2="1311.10" y2="260.74"/>
<line x1="273.10" y1="285.35" x2="1311.10" y2="285.35"/>
<line x1="273.10" y1="309.95" x2="1311.10" y2="309.95"/>
<line x1="273.10" y1="334.56" x2="1311.10" y2="334.56"/>
<line x1="273.10" y1="359.16" x2="1311.10" y2="359.16"/>
<line x1="273.10" y1="383.77" x2="1311.10" y2="383.77"/>
<line x1="273.10" y1="408.37" x2="1311.10" y2="408.37"/>
<line x1="273.10" y1="432.98" x2="1311.10" y2="432.98"/>
<line x1="273.10" y1="457.58" x2="1311.10" y2="457.58"/>
<line x1="273.10" y1="482.19" x2="1311.10" y2="482.19"/>
<line x1="273.10" y1="506.79" x2="1311.10" y2="506.79"/>
<line x1="273.10" y1="531.40" x2="1311.10" y2="531.40"/>
<line x1="273.10" y1="556.00" x2="1311.10" y2="556.00"/>
<line x1="273.10" y1="580.61" x2="1311.10" y2="580.61"/>
<line x1="273.10" y1="605.21" x2="1311.10" y2="605.21"/>
<line x1="273.10" y1="629.82" x2="1311.10" y2="629.82"/>
<line x1="273.10" y1="654.42" x2="1311.10" y2="654.42"/>
<line x1="273.10" y1="679.03" x2="1311.10" y2="679.03"/>
<line x1="273.10" y1="703.63" x2="1311.10" y2="703.63"/>
<line x1="273.10" y1="728.24" x2="1311.10" y2="728.24"/>
<line x1="273.10" y1="752.84" x2="1311.10" y2="752.84"/>
<line x1="273.10" y1="777.45" x2="1311.10" y2="777.45"/>
<line x1="273.10" y1="802.05" x2="1311.10" y2="802.05"/>
<line x1="273.10" y1="826.65" x2="1311.10" y2="826.65"/>
<line x1="273.10" y1="851.26" x2="1311.10" y2="851.26"/>
<line x1="273.10" y1="875.86" x2="1311.10" y2="875.86"/>
<line x1="273.10" y1="900.47" x2="1311.10" y2="900.47"/>
<line x1="273.10" y1="925.07" x2="1311.10" y2="925.07"/>
<line x1="273.10" y1="949.68" x2="1311.10" y2="949.68"/>
<line x1="273.10" y1="974.28" x2="1311.10" y2="974.28"/>
<line x1="273.10" y1="998.89" x2="1311.10" y2="998.89"/>
<line x1="273.10" y1="1023.49" x2="1311.10" y2="1023.49"/>
<line x1="273.10" y1="1048.10" x2="1311.10" y2="1048.10"/>
<line x1="273.10" y1="1072.70" x2="1311.10" y2="1072.70"/>
<line x1="273.10" y1="1097.31" x2="1311.10" y2="1097.31"/>
<line x1="273.10" y1="1121.91" x2="1311.10" y2="1121.91"/>
<line x1="273.10" y1="1146.52" x2="1311.10" y2="1146.52"/>
<line x1="273.10" y1="1171.12" x2="1311.10" y2="1171.12"/>
<line x1="273.10" y1="1195.73" x2="1311.10" y2="1195.73"/>
<line x1="273.10" y1="1220.33" x2="1311.10" y2="1220.33"/>
<line x1="273.10" y1="1244.94" x2="1311.10" y2="1244.94"/>
<line x1="273.10" y1="1269.54" x2="1311.10" y2="1269.54"/>
<line x1="273.10" y1="1294.15" x2="1311.10" y2="1294.15"/>
<line x1="273.10" y1="1318.75" x2="1311.10" y2="1318.75"/>
<line x1="273.10" y1="1343.36" x2="1311.10" y2="1343.36"/>
<line x1="273.10" y1="1367.96" x2="1311.10" y2="1367.96"/>
<line x1="273.10" y1="1392.57" x2="1311.10" y2="1392.57"/>
<line x1="273.10" y1="1417.17" x2="1311.10" y2="1417.17"/>
<line x1="273.10" y1="1441.78" x2="1311.10" y2="1441.78"/>
<line x1="273.10" y1="1466.38" x2="1311.10" y2="1466.38"/>
<line x1="273.10" y1="1490.99" x2="1311.10" y2="1490.99"/>
<line x1="273.10" y1="1515.59" x2="1311.10" y2="1515.59"/>
<line x1="273.10" y1="1540.20" x2="1311.10" y2="1540.20"/>
<line x1="273.10" y1="1564.80" x2="1311.10" y2="1564.80"/>
<line x1="273.10" y1="39.30" x2="273.10" y2="1564.80"/>
<line x1="402.85" y1="39.30" x2="402.85" y2="1564.80"/>
<line x1="532.60" y1="39.30" x2="532.60" y2="1564.80"/>
<line x1="662.35" y1="39.30" x2="662.35" y2="1564.80"/>
<line x1="792.10" y1="39.30" x2="792.10" y2="1564.80"/>
<line x1="921.85" y1="39.30" x2="921.85" y2="1564.80"/>
<line x1="1051.60" y1="39.30" x2="1051.60" y2="1564.80"/>
<line x1="1181.35" y1="39.30" x2="1181.35" y2="1564.80"/>
<line x1="1311.10" y1="39.30" x2="1311.10" y2="1564.80"/>
</g>
<g stroke="#9b9a98" stroke-width="1.15">
<line x1="272.30" y1="39.30" x2="1311.90" y2="39.30"/>
<line x1="272.30" y1="63.90" x2="1311.90" y2="63.90"/>
<line x1="272.30" y1="88.51" x2="1311.90" y2="88.51"/>
<line x1="272.30" y1="113.11" x2="1311.90" y2="113.11"/>
<line x1="272.30" y1="137.72" x2="1311.90" y2="137.72"/>
<line x1="272.30" y1="162.32" x2="1311.90" y2="162.32"/>
<line x1="272.30" y1="186.93" x2="1311.90" y2="186.93"/>
<line x1="272.30" y1="211.53" x2="1311.90" y2="211.53"/>
<line x1="272.30" y1="236.14" x2="1311.90" y2="236.14"/>
<line x1="272.30" y1="260.74" x2="1311.90" y2="260.74"/>
<line x1="272.30" y1="285.35" x2="1311.90" y2="285.35"/>
<line x1="272.30" y1="309.95" x2="1311.90" y2="309.95"/>
<line x1="272.30" y1="334.56" x2="1311.90" y2="334.56"/>
<line x1="272.30" y1="359.16" x2="1311.90" y2="359.16"/>
<line x1="272.30" y1="383.77" x2="1311.90" y2="383.77"/>
<line x1="272.30" y1="408.37" x2="1311.90" y2="408.37"/>
<line x1="272.30" y1="432.98" x2="1311.90" y2="432.98"/>
<line x1="272.30" y1="457.58" x2="1311.90" y2="457.58"/>
<line x1="272.30" y1="482.19" x2="1311.90" y2="482.19"/>
<line x1="272.30" y1="506.79" x2="1311.90" y2="506.79"/>
<line x1="272.30" y1="531.40" x2="1311.90" y2="531.40"/>
<line x1="272.30" y1="556.00" x2="1311.90" y2="556.00"/>
<line x1="272.30" y1="580.61" x2="1311.90" y2="580.61"/>
<line x1="272.30" y1="605.21" x2="1311.90" y2="605.21"/>
<line x1="272.30" y1="629.82" x2="1311.90" y2="629.82"/>
<line x1="272.30" y1="654.42" x2="1311.90" y2="654.42"/>
<line x1="272.30" y1="679.03" x2="1311.90" y2="679.03"/>
<line x1="272.30" y1="703.63" x2="1311.90" y2="703.63"/>
<line x1="272.30" y1="728.24" x2="1311.90" y2="728.24"/>
<line x1="272.30" y1="752.84" x2="1311.90" y2="752.84"/>
<line x1="272.30" y1="777.45" x2="1311.90" y2="777.45"/>
<line x1="272.30" y1="802.05" x2="1311.90" y2="802.05"/>
<line x1="272.30" y1="826.65" x2="1311.90" y2="826.65"/>
<line x1="272.30" y1="851.26" x2="1311.90" y2="851.26"/>
<line x1="272.30" y1="875.86" x2="1311.90" y2="875.86"/>
<line x1="272.30" y1="900.47" x2="1311.90" y2="900.47"/>
<line x1="272.30" y1="925.07" x2="1311.90" y2="925.07"/>
<line x1="272.30" y1="949.68" x2="1311.90" y2="949.68"/>
<line x1="272.30" y1="974.28" x2="1311.90" y2="974.28"/>
<line x1="272.30" y1="998.89" x2="1311.90" y2="998.89"/>
<line x1="272.30" y1="1023.49" x2="1311.90" y2="1023.49"/>
<line x1="272.30" y1="1048.10" x2="1311.90" y2="1048.10"/>
<line x1="272.30" y1="1072.70" x2="1311.90" y2="1072.70"/>
<line x1="272.30" y1="1097.31" x2="1311.90" y2="1097.31"/>
<line x1="272.30" y1="1121.91" x2="1311.90" y2="1121.91"/>
<line x1="272.30" y1="1146.52" x2="1311.90" y2="1146.52"/>
<line x1="272.30" y1="1171.12" x2="1311.90" y2="1171.12"/>
<line x1="272.30" y1="1195.73" x2="1311.90" y2="1195.73"/>
<line x1="272.30" y1="1220.33" x2="1311.90" y2="1220.33"/>
<line x1="272.30" y1="1244.94" x2="1311.90" y2="1244.94"/>
<line x1="272.30" y1="1269.54" x2="1311.90" y2="1269.54"/>
<line x1="272.30" y1="1294.15" x2="1311.90" y2="1294.15"/>
<line x1="272.30" y1="1318.75" x2="1311.90" y2="1318.75"/>
<line x1="272.30" y1="1343.36" x2="1311.90" y2="1343.36"/>
<line x1="272.30" y1="1367.96" x2="1311.90" y2="1367.96"/>
<line x1="272.30" y1="1392.57" x2="1311.90" y2="1392.57"/>
<line x1="272.30" y1="1417.17" x2="1311.90" y2="1417.17"/>
<line x1="272.30" y1="1441.78" x2="1311.90" y2="1441.78"/>
<line x1="272.30" y1="1466.38" x2="1311.90" y2="1466.38"/>
<line x1="272.30" y1="1490.99" x2="1311.90" y2="1490.99"/>
<line x1="272.30" y1="1515.59" x2="1311.90" y2="1515.59"/>
<line x1="272.30" y1="1540.20" x2="1311.90" y2="1540.20"/>
<line x1="272.30" y1="1564.80" x2="1311.90" y2="1564.80"/>
</g><g stroke="#8f8e98" stroke-width="1.6">
<line x1="273.10" y1="38.70" x2="273.10" y2="1565.40"/>
<line x1="402.85" y1="38.70" x2="402.85" y2="1565.40"/>
<line x1="532.60" y1="38.70" x2="532.60" y2="1565.40"/>
<line x1="662.35" y1="38.70" x2="662.35" y2="1565.40"/>
<line x1="792.10" y1="38.70" x2="792.10" y2="1565.40"/>
<line x1="921.85" y1="38.70" x2="921.85" y2="1565.40"/>
<line x1="1051.60" y1="38.70" x2="1051.60" y2="1565.40"/>
<line x1="1181.35" y1="38.70" x2="1181.35" y2="1565.40"/>
<line x1="1311.10" y1="38.70" x2="1311.10" y2="1565.40"/>
</g>
<text class="s o" x="137.4" y="57.5">OTU_112</text>
<text class="s o" x="137.4" y="82.3">OTU_60</text>
<text class="s o" x="137.4" y="107.0">OTU_66</text>
<text class="s o" x="137.4" y="131.7">OTU_5</text>
<text class="s o" x="137.4" y="156.4">OTU_12</text>
<text class="s o" x="137.4" y="181.1">OTU_21</text>
<text class="s o" x="137.4" y="205.8">OTU_24</text>
<text class="s o" x="137.4" y="230.5">OTU_32</text>
<text class="s o" x="137.4" y="255.2">OTU_72</text>
<text class="s o" x="137.4" y="279.9">OTU_75</text>
<text class="s o" x="137.4" y="304.6">OTU_87</text>
<text class="s o" x="137.4" y="329.3">OTU_92</text>
<text class="s o" x="137.4" y="354.0">OTU_102</text>
<text class="s o" x="137.4" y="378.7">OTU_133</text>
<text class="s o" x="137.4" y="403.4">OTU_1380</text>
<text class="s o" x="137.4" y="428.1">OTU_7</text>
<text class="s o" x="137.4" y="452.8">OTU_74</text>
<text class="s o" x="137.4" y="477.5">OTU_97</text>
<text class="s o" x="137.4" y="502.2">OTU_19</text>
<text class="s o" x="137.4" y="526.9">OTU_40</text>
<text class="s o" x="137.4" y="551.6">OTU_46</text>
<text class="s o" x="137.4" y="576.4">OTU_50</text>
<text class="s o" x="137.4" y="601.1">OTU_56</text>
<text class="s o" x="137.4" y="625.8">OTU_55</text>
<text class="s o" x="137.4" y="650.5">OTU_63</text>
<text class="s o" x="137.4" y="675.2">OTU_78</text>
<text class="s o" x="137.4" y="699.9">OTU_94</text>
<text class="s o" x="137.4" y="724.6">OTU_70</text>
<text class="s o" x="137.4" y="749.3">OTU_73</text>
<text class="s o" x="137.4" y="774.0">OTU_8</text>
<text class="s o" x="137.4" y="798.7">OTU_10</text>
<text class="s o" x="137.4" y="823.4">OTU_17</text>
<text class="s o" x="137.4" y="848.1">OTU_18</text>
<text class="s o" x="137.4" y="872.8">OTU_23</text>
<text class="s o" x="137.4" y="897.5">OTU_26</text>
<text class="s o" x="137.4" y="922.2">OTU_28</text>
<text class="s o" x="137.4" y="946.9">OTU_29</text>
<text class="s o" x="137.4" y="971.6">OTU_30</text>
<text class="s o" x="137.4" y="996.3">OTU_33</text>
<text class="s o" x="137.4" y="1021.0">OTU_35</text>
<text class="s o" x="137.4" y="1045.8">OTU_38</text>
<text class="s o" x="137.4" y="1070.5">OTU_42</text>
<text class="s o" x="137.4" y="1095.2">OTU_43</text>
<text class="s o" x="137.4" y="1119.9">OTU_44</text>
<text class="s o" x="137.4" y="1144.6">OTU_79</text>
<text class="s o" x="137.4" y="1169.3">OTU_80</text>
<text class="s o" x="137.4" y="1194.0">OTU_81</text>
<text class="s o" x="137.4" y="1218.7">OTU_110</text>
<text class="s o" x="137.4" y="1243.4">OTU_25</text>
<text class="s o" x="137.4" y="1268.1">OTU_9</text>
<text class="s o" x="137.4" y="1292.8">OTU_34</text>
<text class="s o" x="137.4" y="1317.5">OTU_48</text>
<text class="s o" x="137.4" y="1342.2">OTU_51</text>
<text class="s o" x="137.4" y="1366.9">OTU_76</text>
<text class="s o" x="137.4" y="1391.6">OTU_93</text>
<text class="s o" x="137.4" y="1416.3">OTU_1</text>
<text class="s o" x="137.4" y="1441.0">OTU_1208</text>
<text class="s o" x="137.4" y="1465.7">OTU_15</text>
<text class="s o" x="137.4" y="1490.4">OTU_36</text>
<text class="s o" x="137.4" y="1515.1">OTU_4</text>
<text class="s o" x="137.4" y="1539.8">OTU_11</text>
<text class="s o" x="137.4" y="1564.6">OTU_14</text>
<text class="a" fill="#000" stroke="#000" transform="translate(598.9,49.4) scale(0.42,0.48)" x="0" y="46.6">*</text>
<text class="a" fill="#000" stroke="#000" transform="translate(978.6,73) scale(0.42,0.48)" x="0" y="46.6">*</text>
<text class="a" fill="#000" stroke="#000" transform="translate(857,99.8) scale(0.42,0.48)" x="0" y="46.6">*</text>
<text class="a" fill="#000" stroke="#000" transform="translate(978.6,99.8) scale(0.42,0.48)" x="0" y="46.6">*</text>
<text class="a" fill="#000" stroke="#000" transform="translate(470,123.6) scale(0.42,0.48)" x="0" y="46.6">*</text>
<text class="a" fill="#000" stroke="#000" transform="translate(857,126) scale(0.42,0.48)" x="0" y="46.6">*</text>
<text class="a" fill="#000" stroke="#000" transform="translate(978.6,126) scale(0.42,0.48)" x="0" y="46.6">*</text>
<text class="a" fill="#000" stroke="#000" transform="translate(602.5,151.4) scale(0.42,0.48)" x="0" y="46.6">*</text>
<text class="a" fill="#000" stroke="#000" transform="translate(1113.7,175.2) scale(0.42,0.48)" x="0" y="46.6">*</text>
<text class="a" fill="#000" stroke="#000" transform="translate(854.6,226.3) scale(0.42,0.48)" x="0" y="46.6">*</text>
<text class="a" fill="#000" stroke="#000" transform="translate(981,223.3) scale(0.42,0.48)" x="0" y="46.6">*</text>
<text class="a" fill="#000" stroke="#000" transform="translate(597.5,249) scale(0.42,0.48)" x="0" y="46.6">*</text>
<text class="a" fill="#000" stroke="#000" transform="translate(982.6,271.3) scale(0.42,0.48)" x="0" y="46.6">*</text>
<text class="a" fill="#000" stroke="#000" transform="translate(1111,272.9) scale(0.42,0.48)" x="0" y="46.6">*</text>
<text class="a" fill="#000" stroke="#000" transform="translate(856.1,348.3) scale(0.42,0.48)" x="0" y="46.6">*</text>
<text class="a" fill="#000" stroke="#000" transform="translate(1109.1,348.3) scale(0.42,0.48)" x="0" y="46.6">*</text>
<text class="a" fill="#000" stroke="#000" transform="translate(1111.2,373.6) scale(0.42,0.48)" x="0" y="46.6">*</text>
<text class="a" fill="#000" stroke="#000" transform="translate(1112.2,398.9) scale(0.42,0.48)" x="0" y="46.6">*</text>
<text class="a" fill="#000" stroke="#000" transform="translate(985.6,421.7) scale(0.42,0.48)" x="0" y="46.6">*</text>
<text class="a" fill="#000" stroke="#000" transform="translate(1246.8,422.7) scale(0.42,0.48)" x="0" y="46.6">*</text>
<text class="a" fill="#000" stroke="#000" transform="translate(1246.8,447) scale(0.42,0.48)" x="0" y="46.6">*</text>
<text class="a" fill="#000" stroke="#000" transform="translate(1248.8,472.3) scale(0.42,0.48)" x="0" y="46.6">*</text>
<text class="a" fill="#000" stroke="#000" transform="translate(717.9,496.6) scale(0.42,0.48)" x="0" y="46.6">*</text>
<text class="a" fill="#000" stroke="#000" transform="translate(465.9,519.4) scale(0.42,0.48)" x="0" y="46.6">*</text>
<text class="a" fill="#000" stroke="#000" transform="translate(595,520.4) scale(0.42,0.48)" x="0" y="46.6">*</text>
<text class="a" fill="#000" stroke="#000" transform="translate(595,547.2) scale(0.42,0.48)" x="0" y="46.6">*</text>
<text class="a" fill="#000" stroke="#000" transform="translate(466.9,570) scale(0.42,0.48)" x="0" y="46.6">*</text>
<text class="a" fill="#000" stroke="#000" transform="translate(596.5,594.3) scale(0.42,0.48)" x="0" y="46.6">*</text>
<text class="a" fill="#000" stroke="#000" transform="translate(1113.2,620.6) scale(0.42,0.48)" x="0" y="46.6">*</text>
<text class="a" fill="#000" stroke="#000" transform="translate(596.5,643.4) scale(0.42,0.48)" x="0" y="46.6">*</text>
<text class="a" fill="#000" stroke="#000" transform="translate(714.4,642.4) scale(0.42,0.48)" x="0" y="46.6">*</text>
<text class="a" fill="#000" stroke="#000" transform="translate(854.6,642.4) scale(0.42,0.48)" x="0" y="46.6">*</text>
<text class="a" fill="#000" stroke="#000" transform="translate(854.6,669.7) scale(0.42,0.48)" x="0" y="46.6">*</text>
<text class="a" fill="#000" stroke="#000" transform="translate(854.6,693) scale(0.42,0.48)" x="0" y="46.6">*</text>
<text class="a" fill="#000" stroke="#000" transform="translate(598,715.8) scale(0.42,0.48)" x="0" y="46.6">*</text>
<text class="a" fill="#000" stroke="#000" transform="translate(854.6,715.8) scale(0.42,0.48)" x="0" y="46.6">*</text>
<text class="a" fill="#000" stroke="#000" transform="translate(1246.8,742.1) scale(0.42,0.48)" x="0" y="46.6">*</text>
<text class="a" fill="#000" stroke="#000" transform="translate(466.9,765.9) scale(0.42,0.48)" x="0" y="46.6">*</text>
<text class="a" fill="#000" stroke="#000" transform="translate(597.5,763.8) scale(0.42,0.48)" x="0" y="46.6">*</text>
<text class="a" fill="#000" stroke="#000" transform="translate(720.5,763.8) scale(0.42,0.48)" x="0" y="46.6">*</text>
<text class="a" fill="#000" stroke="#000" transform="translate(985.6,768.9) scale(0.42,0.48)" x="0" y="46.6">*</text>
<text class="a" fill="#000" stroke="#000" transform="translate(466.9,792.2) scale(0.42,0.48)" x="0" y="46.6">*</text>
<text class="a" fill="#000" stroke="#000" transform="translate(1111.7,792.2) scale(0.42,0.48)" x="0" y="46.6">*</text>
<text class="a" fill="#000" stroke="#000" transform="translate(1114.7,841.3) scale(0.42,0.48)" x="0" y="46.6">*</text>
<text class="a" fill="#000" stroke="#000" transform="translate(468.4,865.1) scale(0.42,0.48)" x="0" y="46.6">*</text>
<text class="a" fill="#000" stroke="#000" transform="translate(599,865.1) scale(0.42,0.48)" x="0" y="46.6">*</text>
<text class="a" fill="#000" stroke="#000" transform="translate(723,865.1) scale(0.42,0.48)" x="0" y="46.6">*</text>
<text class="a" fill="#000" stroke="#000" transform="translate(600.5,889.4) scale(0.42,0.48)" x="0" y="46.6">*</text>
<text class="a" fill="#000" stroke="#000" transform="translate(600.5,913.2) scale(0.42,0.48)" x="0" y="46.6">*</text>
<text class="a" fill="#000" stroke="#000" transform="translate(722,913.2) scale(0.42,0.48)" x="0" y="46.6">*</text>
<text class="a" fill="#000" stroke="#000" transform="translate(599,963.8) scale(0.42,0.48)" x="0" y="46.6">*</text>
<text class="a" fill="#000" stroke="#000" transform="translate(722,961.8) scale(0.42,0.48)" x="0" y="46.6">*</text>
<text class="a" fill="#000" stroke="#000" transform="translate(722,987.1) scale(0.42,0.48)" x="0" y="46.6">*</text>
<text class="a" fill="#000" stroke="#000" transform="translate(597.5,1009.3) scale(0.42,0.48)" x="0" y="46.6">*</text>
<text class="a" fill="#000" stroke="#000" transform="translate(597,1037.7) scale(0.42,0.48)" x="0" y="46.6">*</text>
<text class="a" fill="#000" stroke="#000" transform="translate(466.9,1060.5) scale(0.42,0.48)" x="0" y="46.6">*</text>
<text class="a" fill="#000" stroke="#000" transform="translate(599,1085.8) scale(0.42,0.48)" x="0" y="46.6">*</text>
<text class="a" fill="#000" stroke="#000" transform="translate(725.5,1085.8) scale(0.42,0.48)" x="0" y="46.6">*</text>
<text class="a" fill="#000" stroke="#000" transform="translate(597.5,1112.6) scale(0.42,0.48)" x="0" y="46.6">*</text>
<text class="a" fill="#000" stroke="#000" transform="translate(725.5,1138.9) scale(0.42,0.48)" x="0" y="46.6">*</text>
<text class="a" fill="#000" stroke="#000" transform="translate(465.9,1236.6) scale(0.42,0.48)" x="0" y="46.6">*</text>
<text class="a" fill="#000" stroke="#000" transform="translate(595,1234.1) scale(0.42,0.48)" x="0" y="46.6">*</text>
<text class="a" fill="#000" stroke="#000" transform="translate(729.1,1260.4) scale(0.42,0.48)" x="0" y="46.6">*</text>
<text class="a" fill="#000" stroke="#000" transform="translate(466.9,1285.2) scale(0.42,0.48)" x="0" y="46.6">*</text>
<text class="a" fill="#000" stroke="#000" transform="translate(729.1,1309.5) scale(0.42,0.48)" x="0" y="46.6">*</text>
<text class="a" fill="#3db54a" stroke="#3db54a" style="stroke-width:0.5px" transform="translate(334.8,1358.6) scale(0.42,0.48)" x="0" y="46.6">*</text>
<text class="a" fill="#000" stroke="#000" transform="translate(467.9,1406.7) scale(0.42,0.48)" x="0" y="46.6">*</text>
<text class="a" fill="#000" stroke="#000" transform="translate(854.6,1408.2) scale(0.42,0.48)" x="0" y="46.6">*</text>
<text class="a" fill="#000" stroke="#000" transform="translate(981.6,1406.7) scale(0.42,0.48)" x="0" y="46.6">*</text>
<text class="a" fill="#000" stroke="#000" transform="translate(1118.7,1407.7) scale(0.42,0.48)" x="0" y="46.6">*</text>
<text class="a" fill="#000" stroke="#000" transform="translate(853.6,1433) scale(0.42,0.48)" x="0" y="46.6">*</text>
<text class="a" fill="#000" stroke="#000" transform="translate(982.6,1456.3) scale(0.42,0.48)" x="0" y="46.6">*</text>
<text class="a" fill="#000" stroke="#000" transform="translate(1246.8,1456.3) scale(0.42,0.48)" x="0" y="46.6">*</text>
<text class="a" fill="#000" stroke="#000" transform="translate(465.9,1481.6) scale(0.42,0.48)" x="0" y="46.6">*</text>
<text class="a" fill="#3db54a" stroke="#3db54a" style="stroke-width:0.5px" transform="translate(339.4,1502.9) scale(0.42,0.48)" x="0" y="46.6">*</text>
<text class="a" fill="#3db54a" stroke="#3db54a" style="stroke-width:0.5px" transform="translate(339.4,1530.7) scale(0.42,0.48)" x="0" y="46.6">*</text>
<text class="a" fill="#3db54a" stroke="#3db54a" style="stroke-width:0.5px" transform="translate(339.4,1557) scale(0.42,0.48)" x="0" y="46.6">*</text>
<g stroke="#000" stroke-width="1.5" fill="none">
<rect x="1317.0" y="39.5" width="754.5" height="1526.5"/>
<line x1="1648.0" y1="39.5" x2="1648.0" y2="1566.0"/>
<line x1="1887.3" y1="39.5" x2="1887.3" y2="1566.0"/>
<line x1="1317.0" y1="64.12" x2="1887.3" y2="64.12"/>
<line x1="1317.0" y1="88.74" x2="1887.3" y2="88.74"/>
<line x1="1317.0" y1="113.36" x2="1887.3" y2="113.36"/>
<line x1="1317.0" y1="137.98" x2="1887.3" y2="137.98"/>
<line x1="1317.0" y1="162.60" x2="1887.3" y2="162.60"/>
<line x1="1317.0" y1="187.23" x2="1887.3" y2="187.23"/>
<line x1="1317.0" y1="211.85" x2="1887.3" y2="211.85"/>
<line x1="1317.0" y1="236.47" x2="1887.3" y2="236.47"/>
<line x1="1317.0" y1="261.09" x2="1887.3" y2="261.09"/>
<line x1="1317.0" y1="285.71" x2="1887.3" y2="285.71"/>
<line x1="1317.0" y1="310.33" x2="1887.3" y2="310.33"/>
<line x1="1317.0" y1="334.95" x2="1887.3" y2="334.95"/>
<line x1="1317.0" y1="359.57" x2="1887.3" y2="359.57"/>
<line x1="1317.0" y1="384.19" x2="1887.3" y2="384.19"/>
<line x1="1317.0" y1="408.81" x2="1887.3" y2="408.81"/>
<line x1="1317.0" y1="433.44" x2="1887.3" y2="433.44"/>
<line x1="1317.0" y1="458.06" x2="1887.3" y2="458.06"/>
<line x1="1317.0" y1="482.68" x2="1887.3" y2="482.68"/>
<line x1="1317.0" y1="507.30" x2="1887.3" y2="507.30"/>
<line x1="1317.0" y1="531.92" x2="1887.3" y2="531.92"/>
<line x1="1317.0" y1="556.54" x2="1887.3" y2="556.54"/>
<line x1="1317.0" y1="581.16" x2="1887.3" y2="581.16"/>
<line x1="1317.0" y1="605.78" x2="1887.3" y2="605.78"/>
<line x1="1317.0" y1="630.40" x2="1887.3" y2="630.40"/>
<line x1="1317.0" y1="655.02" x2="1887.3" y2="655.02"/>
<line x1="1317.0" y1="679.65" x2="1887.3" y2="679.65"/>
<line x1="1317.0" y1="704.27" x2="1887.3" y2="704.27"/>
<line x1="1317.0" y1="728.89" x2="1887.3" y2="728.89"/>
<line x1="1317.0" y1="753.51" x2="1887.3" y2="753.51"/>
<line x1="1317.0" y1="778.13" x2="1887.3" y2="778.13"/>
<line x1="1317.0" y1="802.75" x2="1887.3" y2="802.75"/>
<line x1="1317.0" y1="827.37" x2="1887.3" y2="827.37"/>
<line x1="1317.0" y1="851.99" x2="1887.3" y2="851.99"/>
<line x1="1317.0" y1="876.61" x2="1887.3" y2="876.61"/>
<line x1="1317.0" y1="901.23" x2="1887.3" y2="901.23"/>
<line x1="1317.0" y1="925.85" x2="1887.3" y2="925.85"/>
<line x1="1317.0" y1="950.48" x2="1887.3" y2="950.48"/>
<line x1="1317.0" y1="975.10" x2="1887.3" y2="975.10"/>
<line x1="1317.0" y1="999.72" x2="1887.3" y2="999.72"/>
<line x1="1317.0" y1="1024.34" x2="1887.3" y2="1024.34"/>
<line x1="1317.0" y1="1048.96" x2="1887.3" y2="1048.96"/>
<line x1="1317.0" y1="1073.58" x2="1887.3" y2="1073.58"/>
<line x1="1317.0" y1="1098.20" x2="1887.3" y2="1098.20"/>
<line x1="1317.0" y1="1122.82" x2="1887.3" y2="1122.82"/>
<line x1="1317.0" y1="1147.44" x2="1887.3" y2="1147.44"/>
<line x1="1317.0" y1="1172.06" x2="1887.3" y2="1172.06"/>
<line x1="1317.0" y1="1196.69" x2="1887.3" y2="1196.69"/>
<line x1="1317.0" y1="1221.31" x2="1887.3" y2="1221.31"/>
<line x1="1317.0" y1="1245.93" x2="1887.3" y2="1245.93"/>
<line x1="1317.0" y1="1270.55" x2="1887.3" y2="1270.55"/>
<line x1="1317.0" y1="1295.17" x2="1887.3" y2="1295.17"/>
<line x1="1317.0" y1="1319.79" x2="1887.3" y2="1319.79"/>
<line x1="1317.0" y1="1344.41" x2="1887.3" y2="1344.41"/>
<line x1="1317.0" y1="1369.03" x2="1887.3" y2="1369.03"/>
<line x1="1317.0" y1="1393.65" x2="1887.3" y2="1393.65"/>
<line x1="1317.0" y1="1418.27" x2="1887.3" y2="1418.27"/>
<line x1="1317.0" y1="1442.90" x2="1887.3" y2="1442.90"/>
<line x1="1317.0" y1="1467.52" x2="1887.3" y2="1467.52"/>
<line x1="1317.0" y1="1492.14" x2="1887.3" y2="1492.14"/>
<line x1="1317.0" y1="1516.76" x2="1887.3" y2="1516.76"/>
<line x1="1317.0" y1="1541.38" x2="1887.3" y2="1541.38"/>
<line x1="1887.3" y1="704.27" x2="2071.5" y2="704.27"/>
<line x1="1887.3" y1="1393.65" x2="2071.5" y2="1393.65"/>
<line x1="1887.3" y1="1442.90" x2="2071.5" y2="1442.90"/>
<line x1="1887.3" y1="1467.52" x2="2071.5" y2="1467.52"/>
<line x1="1887.3" y1="1492.14" x2="2071.5" y2="1492.14"/>
<line x1="1887.3" y1="1541.38" x2="2071.5" y2="1541.38"/>
</g>
<text class="i" x="1318.5" y="59.5">Erysipelatoclostridium</text>
<text class="i" x="1649.5" y="59.5">Erysipelatoclostridiaceae</text>
<text class="i" x="1318.5" y="84.1">Turicibacter</text>
<text class="i" x="1649.5" y="84.1">Erysipelotrichaceae</text>
<text class="i" x="1318.5" y="108.8">Faecalibaculum</text>
<text class="i" x="1649.5" y="108.8">Erysipelotrichaceae</text>
<text class="i" x="1318.5" y="133.4">Anaerostipes</text>
<text class="i" x="1649.5" y="133.4">Lachnospiraceae</text>
<text class="i" x="1649.5" y="158.0">Lachnospiraceae</text>
<text class="i" x="1318.5" y="182.6">Lachnospiraceae_NK4A136_group</text>
<text class="i" x="1649.5" y="182.6">Lachnospiraceae</text>
<text class="i" x="1318.5" y="207.2">Lachnospiraceae_NK4A136_group</text>
<text class="i" x="1649.5" y="207.2">Lachnospiraceae</text>
<text class="i" x="1318.5" y="231.9">Lachnospiraceae_NK4A136_group</text>
<text class="i" x="1649.5" y="231.9">Lachnospiraceae</text>
<text class="i" x="1318.5" y="256.5">Lachnospiraceae_NK4A136_group</text>
<text class="i" x="1649.5" y="256.5">Lachnospiraceae</text>
<text class="i" x="1318.5" y="281.1">Lachnoclostridium</text>
<text class="i" x="1649.5" y="281.1">Lachnospiraceae</text>
<text class="i" x="1649.5" y="305.7">Lachnospiraceae</text>
<text class="i" x="1649.5" y="330.4">Lachnospiraceae</text>
<text class="i" x="1318.5" y="355.0">Lachnoclostridium</text>
<text class="i" x="1649.5" y="355.0">Lachnospiraceae</text>
<text class="i" x="1318.5" y="379.6">A2</text>
<text class="i" x="1649.5" y="379.6">Lachnospiraceae</text>
<text class="i" x="1649.5" y="404.2">Lachnospiraceae</text>
<text class="i" x="1318.5" y="428.8">Lactobacillus</text>
<text class="i" x="1649.5" y="428.8">Lactobacillaceae</text>
<text class="i" x="1318.5" y="453.5">Lactobacillus</text>
<text class="i" x="1649.5" y="453.5">Lactobacillaceae</text>
<text class="i" x="1318.5" y="478.1">Lactobacillus</text>
<text class="i" x="1649.5" y="478.1">Lactobacillaceae</text>
<text class="i" x="1318.5" y="502.7">Colidextribacter</text>
<text class="i" x="1649.5" y="502.7">Oscillospiraceae</text>
<text class="i" x="1318.5" y="527.3">Intestinimonas</text>
<text class="i" x="1649.5" y="527.3">Oscillospiraceae</text>
<text class="i" x="1318.5" y="551.9">Oscillibacter</text>
<text class="i" x="1649.5" y="551.9">Oscillospiraceae</text>
<text class="i" x="1318.5" y="576.6">Oscillibacter</text>
<text class="i" x="1649.5" y="576.6">Oscillospiraceae</text>
<text class="i" x="1318.5" y="601.2">Colidextribacter</text>
<text class="i" x="1649.5" y="601.2">Oscillospiraceae</text>
<text class="i" x="1318.5" y="625.8">Ruminococcus</text>
<text class="i" x="1649.5" y="625.8">Ruminococcaceae</text>
<text class="i" x="1318.5" y="650.4">UBA1819</text>
<text class="i" x="1649.5" y="650.4">Ruminococcaceae</text>
<text class="i" x="1318.5" y="675.0">[Eubacterium]_siraeum_group</text>
<text class="i" x="1649.5" y="675.0">Ruminococcaceae</text>
<text class="i" x="1649.5" y="699.7">Ruminococcaceae</text>
<text class="i" x="1318.5" y="724.3">Bacteroides</text>
<text class="i" x="1649.5" y="724.3">Bacteroidaceae</text>
<text class="i" x="1318.5" y="748.9">Bacteroides</text>
<text class="i" x="1649.5" y="748.9">Bacteroidaceae</text>
<text class="i" x="1649.5" y="773.5">Muribaculaceae</text>
<text class="i" x="1649.5" y="798.1">Muribaculaceae</text>
<text class="i" x="1649.5" y="822.8">Muribaculaceae</text>
<text class="i" x="1649.5" y="847.4">Muribaculaceae</text>
<text class="i" x="1649.5" y="872.0">Muribaculaceae</text>
<text class="i" x="1649.5" y="896.6">Muribaculaceae</text>
<text class="i" x="1649.5" y="921.3">Muribaculaceae</text>
<text class="i" x="1649.5" y="945.9">Muribaculaceae</text>
<text class="i" x="1649.5" y="970.5">Muribaculaceae</text>
<text class="i" x="1649.5" y="995.1">Muribaculaceae</text>
<text class="i" x="1649.5" y="1019.7">Muribaculaceae</text>
<text class="i" x="1649.5" y="1044.4">Muribaculaceae</text>
<text class="i" x="1649.5" y="1069.0">Muribaculaceae</text>
<text class="i" x="1649.5" y="1093.6">Muribaculaceae</text>
<text class="i" x="1649.5" y="1118.2">Muribaculaceae</text>
<text class="i" x="1649.5" y="1142.8">Muribaculaceae</text>
<text class="i" x="1649.5" y="1167.5">Muribaculaceae</text>
<text class="i" x="1649.5" y="1192.1">Muribaculaceae</text>
<text class="i" x="1318.5" y="1216.7">Muribaculum</text>
<text class="i" x="1649.5" y="1216.7">Muribaculaceae</text>
<text class="i" x="1318.5" y="1241.3">Alloprevotella</text>
<text class="i" x="1649.5" y="1241.3">Prevotellaceae</text>
<text class="i" x="1318.5" y="1265.9">Alistipes</text>
<text class="i" x="1649.5" y="1265.9">Rikenellaceae</text>
<text class="i" x="1318.5" y="1290.6">Alistipes</text>
<text class="i" x="1649.5" y="1290.6">Rikenellaceae</text>
<text class="i" x="1318.5" y="1315.2">Alistipes</text>
<text class="i" x="1649.5" y="1315.2">Rikenellaceae</text>
<text class="i" x="1318.5" y="1339.8">Alistipes</text>
<text class="i" x="1649.5" y="1339.8">Rikenellaceae</text>
<text class="i" x="1318.5" y="1364.4">Rikenellaceae_gut_group</text>
<text class="i" x="1649.5" y="1364.4">Rikenellaceae</text>
<text class="i" x="1318.5" y="1389.1">Alistipes</text>
<text class="i" x="1649.5" y="1389.1">Rikenellaceae</text>
<text class="i" x="1318.5" y="1413.7">Akkermansia</text>
<text class="i" x="1649.5" y="1413.7">Akkermansiaceae</text>
<text class="i" x="1318.5" y="1438.3">Akkermansia</text>
<text class="i" x="1649.5" y="1438.3">Akkermansiaceae</text>
<text class="i" x="1318.5" y="1462.9">Bifidobacterium</text>
<text class="i" x="1649.5" y="1462.9">Bifidobacteriaceae</text>
<text class="i" x="1318.5" y="1487.5">Bilophila</text>
<text class="i" x="1649.5" y="1487.5">Desulfovibrionaceae</text>
<text class="i" x="1318.5" y="1512.2">Pseudomonas</text>
<text class="i" x="1649.5" y="1512.2">Pseudomonadaceae</text>
<text class="i" x="1318.5" y="1536.8">Escherichia-Shigella</text>
<text class="i" x="1649.5" y="1536.8">Enterobacteriaceae</text>
<text class="i" x="1318.5" y="1561.4">Candidatus_Saccharimonas</text>
<text class="i" x="1649.5" y="1561.4">Saccharimonadaceae</text>
<text class="i" x="1979.7" y="391.1" text-anchor="middle">Firmicutes</text>
<text class="i" x="1979.7" y="1069.0" text-anchor="middle">Bacteroidota</text>
<text class="i" x="1979.7" y="1425.5" text-anchor="middle">Verrucomicrobiota</text>
<text class="i" x="1979.7" y="1462.4" text-anchor="middle">Actinobacteriota</text>
<text class="i" x="1979.7" y="1487.0" text-anchor="middle">Desulfobacterota</text>
<text class="i" x="1979.7" y="1524.0" text-anchor="middle">Proteobacteria</text>
<text class="i" x="1979.7" y="1560.9" text-anchor="middle">unidentified</text>
</svg></body></html>
